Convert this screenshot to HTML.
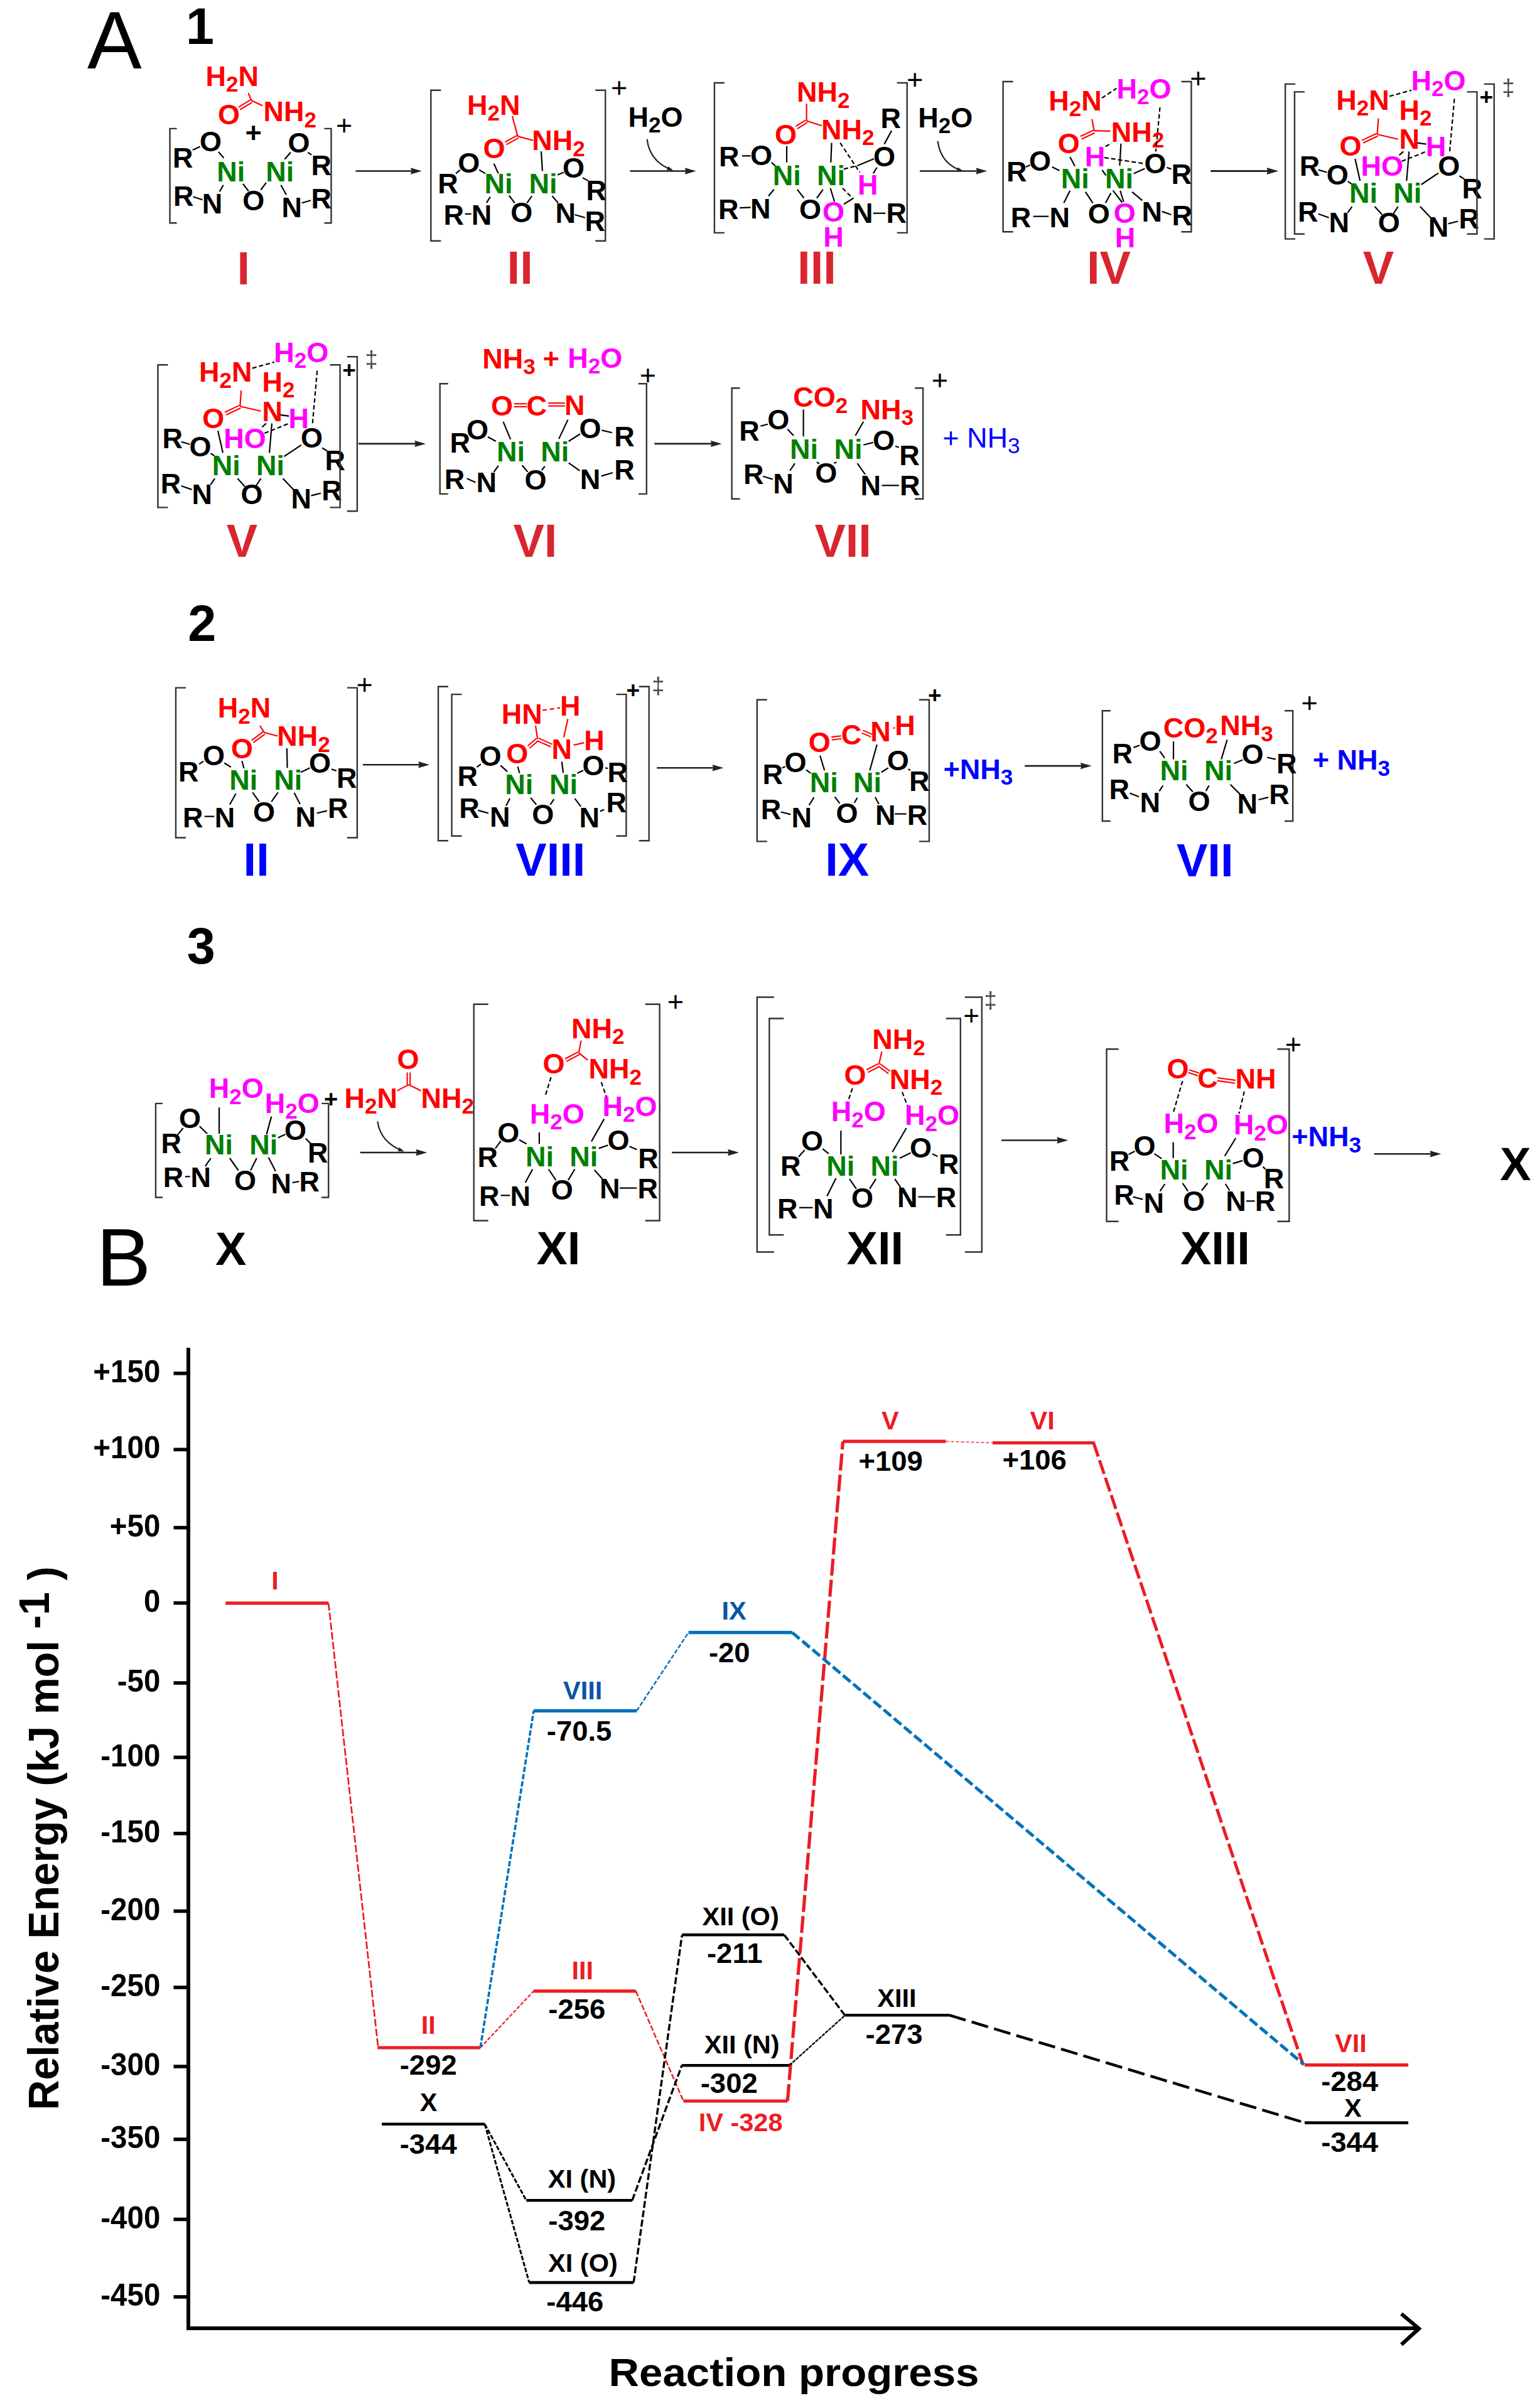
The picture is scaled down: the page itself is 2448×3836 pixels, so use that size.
<!DOCTYPE html>
<html><head><meta charset="utf-8"><title>Figure</title>
<style>html,body{margin:0;padding:0;background:#fff}svg{display:block}#fig{width:2448px;height:3836px;overflow:hidden}text{font-family:"Liberation Sans",sans-serif}</style>
</head><body>
<div id="fig">
<svg width="2448" height="3836" viewBox="0 0 2448 3836">
<rect width="2448" height="3836" fill="#fff"/>
<text x="139.0" y="109.3" fill="#000000" font-size="130.0" font-weight="normal" text-anchor="start">A</text>
<text x="296.1" y="70.3" fill="#000000" font-size="81.0" font-weight="bold" text-anchor="start">1</text>
<text x="327.6" y="136.6" fill="#ff0000" font-size="45.0" font-weight="bold" text-anchor="start"><tspan dy="0.0" font-size="45.0">H</tspan><tspan dy="9.4" font-size="35.1">2</tspan><tspan dy="-9.4" font-size="45.0">N</tspan></text>
<text x="347.1" y="198.3" fill="#ff0000" font-size="45.0" font-weight="bold" text-anchor="start">O</text>
<text x="419.4" y="193.2" fill="#ff0000" font-size="45.0" font-weight="bold" text-anchor="start"><tspan dy="0.0" font-size="45.0">NH</tspan><tspan dy="9.4" font-size="35.1">2</tspan></text>
<line x1="395.5" y1="148.3" x2="400.6" y2="160.1" stroke="#ff0000" stroke-width="2.2"/>
<line x1="400.6" y1="160.1" x2="418.2" y2="168.6" stroke="#ff0000" stroke-width="2.2"/>
<line x1="399.4" y1="158.9" x2="379.9" y2="170.6" stroke="#ff0000" stroke-width="2.1"/>
<line x1="401.8" y1="162.8" x2="382.3" y2="174.5" stroke="#ff0000" stroke-width="2.1"/>
<path d="M281.6 204.9H270.6V355.2H281.6" stroke="#333" stroke-width="2.4" fill="none"/>
<path d="M516.5 204.9H527.5V355.2H516.5" stroke="#333" stroke-width="2.4" fill="none"/>
<text x="548.1" y="214.9" fill="#000000" font-size="45.0" font-weight="normal" text-anchor="middle">+</text>
<text x="403.7" y="227.0" fill="#000000" font-size="45.0" font-weight="bold" text-anchor="middle">+</text>
<text x="317.9" y="241.2" fill="#000000" font-size="45.0" font-weight="bold" text-anchor="start">O</text>
<text x="274.9" y="267.4" fill="#000000" font-size="45.0" font-weight="bold" text-anchor="start">R</text>
<text x="345.2" y="288.9" fill="#008000" font-size="45.0" font-weight="bold" text-anchor="start">Ni</text>
<text x="423.3" y="288.9" fill="#008000" font-size="45.0" font-weight="bold" text-anchor="start">Ni</text>
<text x="458.4" y="242.8" fill="#000000" font-size="45.0" font-weight="bold" text-anchor="start">O</text>
<text x="495.5" y="279.1" fill="#000000" font-size="45.0" font-weight="bold" text-anchor="start">R</text>
<text x="276.1" y="327.9" fill="#000000" font-size="45.0" font-weight="bold" text-anchor="start">R</text>
<text x="321.8" y="339.6" fill="#000000" font-size="45.0" font-weight="bold" text-anchor="start">N</text>
<text x="386.2" y="334.9" fill="#000000" font-size="45.0" font-weight="bold" text-anchor="start">O</text>
<text x="448.6" y="345.5" fill="#000000" font-size="45.0" font-weight="bold" text-anchor="start">N</text>
<text x="495.5" y="331.8" fill="#000000" font-size="45.0" font-weight="bold" text-anchor="start">R</text>
<line x1="306.9" y1="238.9" x2="318.6" y2="233.4" stroke="#000000" stroke-width="2.2"/>
<line x1="347.9" y1="242.0" x2="356.5" y2="251.8" stroke="#000000" stroke-width="2.2"/>
<line x1="355.7" y1="294.7" x2="349.8" y2="305.3" stroke="#000000" stroke-width="2.2"/>
<line x1="307.7" y1="313.5" x2="322.5" y2="318.2" stroke="#000000" stroke-width="2.2"/>
<line x1="386.9" y1="292.8" x2="395.9" y2="304.5" stroke="#000000" stroke-width="2.2"/>
<line x1="415.4" y1="302.5" x2="424.0" y2="290.8" stroke="#000000" stroke-width="2.2"/>
<line x1="453.3" y1="253.7" x2="463.0" y2="242.8" stroke="#000000" stroke-width="2.2"/>
<line x1="490.4" y1="242.8" x2="496.2" y2="246.7" stroke="#000000" stroke-width="2.2"/>
<line x1="447.4" y1="294.7" x2="456.0" y2="310.3" stroke="#000000" stroke-width="2.2"/>
<line x1="480.6" y1="323.2" x2="495.1" y2="319.3" stroke="#000000" stroke-width="2.2"/>
<line x1="566.5" y1="272.5" x2="661.1" y2="272.5" stroke="#222" stroke-width="2.6"/>
<path d="M671.9 272.5L653.9 267.3L655.7 272.5L653.9 277.7Z" fill="#222"/>
<text x="377.4" y="452.8" fill="#d9262e" font-size="74.0" font-weight="bold" text-anchor="start">I</text>
<path d="M702.3 143.7H686.3V383.8H702.3" stroke="#333" stroke-width="2.4" fill="none"/>
<path d="M948.2 143.7H964.2V383.8H948.2" stroke="#333" stroke-width="2.4" fill="none"/>
<text x="986.1" y="154.9" fill="#000000" font-size="45.0" font-weight="normal" text-anchor="middle">+</text>
<text x="744.1" y="182.7" fill="#ff0000" font-size="45.0" font-weight="bold" text-anchor="start"><tspan dy="0.0" font-size="45.0">H</tspan><tspan dy="9.4" font-size="35.1">2</tspan><tspan dy="-9.4" font-size="45.0">N</tspan></text>
<text x="769.5" y="252.2" fill="#ff0000" font-size="45.0" font-weight="bold" text-anchor="start">O</text>
<text x="847.2" y="239.3" fill="#ff0000" font-size="45.0" font-weight="bold" text-anchor="start"><tspan dy="0.0" font-size="45.0">NH</tspan><tspan dy="9.4" font-size="35.1">2</tspan></text>
<line x1="815.9" y1="184.7" x2="824.5" y2="217.1" stroke="#ff0000" stroke-width="2.2"/>
<line x1="824.5" y1="217.1" x2="849.1" y2="223.7" stroke="#ff0000" stroke-width="2.2"/>
<line x1="823.4" y1="215.8" x2="804.3" y2="226.4" stroke="#ff0000" stroke-width="2.1"/>
<line x1="825.6" y1="219.9" x2="806.5" y2="230.4" stroke="#ff0000" stroke-width="2.1"/>
<text x="771.4" y="307.6" fill="#008000" font-size="45.0" font-weight="bold" text-anchor="start">Ni</text>
<text x="842.5" y="307.6" fill="#008000" font-size="45.0" font-weight="bold" text-anchor="start">Ni</text>
<text x="729.3" y="274.5" fill="#000000" font-size="45.0" font-weight="bold" text-anchor="start">O</text>
<text x="697.3" y="308.4" fill="#000000" font-size="45.0" font-weight="bold" text-anchor="start">R</text>
<text x="706.6" y="357.6" fill="#000000" font-size="45.0" font-weight="bold" text-anchor="start">R</text>
<text x="750.7" y="357.6" fill="#000000" font-size="45.0" font-weight="bold" text-anchor="start">N</text>
<text x="813.2" y="353.7" fill="#000000" font-size="45.0" font-weight="bold" text-anchor="start">O</text>
<text x="884.6" y="354.5" fill="#000000" font-size="45.0" font-weight="bold" text-anchor="start">N</text>
<text x="931.5" y="368.2" fill="#000000" font-size="45.0" font-weight="bold" text-anchor="start">R</text>
<text x="933.4" y="319.4" fill="#000000" font-size="45.0" font-weight="bold" text-anchor="start">R</text>
<text x="896.0" y="283.4" fill="#000000" font-size="45.0" font-weight="bold" text-anchor="start">O</text>
<line x1="763.2" y1="270.6" x2="773.0" y2="276.4" stroke="#000000" stroke-width="2.2"/>
<line x1="726.1" y1="276.4" x2="732.8" y2="270.6" stroke="#000000" stroke-width="2.2"/>
<line x1="786.6" y1="260.8" x2="793.7" y2="276.4" stroke="#000000" stroke-width="2.2"/>
<line x1="862.0" y1="241.3" x2="863.9" y2="272.5" stroke="#000000" stroke-width="2.2"/>
<line x1="888.1" y1="278.4" x2="897.9" y2="274.5" stroke="#000000" stroke-width="2.2"/>
<line x1="927.9" y1="283.1" x2="936.9" y2="288.1" stroke="#000000" stroke-width="2.2"/>
<line x1="780.8" y1="313.5" x2="774.9" y2="323.3" stroke="#000000" stroke-width="2.2"/>
<line x1="740.6" y1="340.8" x2="750.7" y2="340.8" stroke="#000000" stroke-width="2.2"/>
<line x1="810.8" y1="311.5" x2="819.8" y2="323.3" stroke="#000000" stroke-width="2.2"/>
<line x1="839.3" y1="323.3" x2="847.1" y2="312.3" stroke="#000000" stroke-width="2.2"/>
<line x1="879.5" y1="312.3" x2="888.9" y2="323.3" stroke="#000000" stroke-width="2.2"/>
<line x1="915.5" y1="342.0" x2="931.8" y2="346.7" stroke="#000000" stroke-width="2.2"/>
<text x="1000.6" y="201.5" fill="#000000" font-size="45.0" font-weight="bold" text-anchor="start"><tspan dy="0.0" font-size="45.0">H</tspan><tspan dy="9.4" font-size="35.1">2</tspan><tspan dy="-9.4" font-size="45.0">O</tspan></text>
<line x1="1003.3" y1="272.5" x2="1097.9" y2="272.5" stroke="#222" stroke-width="2.6"/>
<path d="M1108.7 272.5L1090.7 267.3L1092.5 272.5L1090.7 277.7Z" fill="#222"/>
<path d="M1030.6 221.8Q1034.5 256.9 1069.6 270.6" stroke="#222" stroke-width="2.2" fill="none"/>
<path d="M1072.4 271.6L1062.0 271.0L1064.3 265.0Z" fill="#222"/>
<text x="807.6" y="452.1" fill="#d9262e" font-size="74.0" font-weight="bold" text-anchor="start">II</text>
<path d="M1153.9 132.0H1137.9V370.9H1153.9" stroke="#333" stroke-width="2.4" fill="none"/>
<path d="M1428.7 132.0H1444.7V370.9H1428.7" stroke="#333" stroke-width="2.4" fill="none"/>
<text x="1457.2" y="142.4" fill="#000000" font-size="45.0" font-weight="normal" text-anchor="middle">+</text>
<text x="1269.1" y="162.4" fill="#ff0000" font-size="45.0" font-weight="bold" text-anchor="start"><tspan dy="0.0" font-size="45.0">NH</tspan><tspan dy="9.4" font-size="35.1">2</tspan></text>
<text x="1308.1" y="221.8" fill="#ff0000" font-size="45.0" font-weight="bold" text-anchor="start"><tspan dy="0.0" font-size="45.0">NH</tspan><tspan dy="9.4" font-size="35.1">2</tspan></text>
<text x="1233.9" y="229.6" fill="#ff0000" font-size="45.0" font-weight="bold" text-anchor="start">O</text>
<line x1="1284.6" y1="165.2" x2="1284.6" y2="192.5" stroke="#ff0000" stroke-width="2.2"/>
<line x1="1284.6" y1="192.5" x2="1308.8" y2="200.3" stroke="#ff0000" stroke-width="2.2"/>
<line x1="1283.4" y1="191.3" x2="1267.4" y2="201.1" stroke="#ff0000" stroke-width="2.1"/>
<line x1="1285.8" y1="195.2" x2="1269.8" y2="205.0" stroke="#ff0000" stroke-width="2.1"/>
<line x1="1253.0" y1="232.7" x2="1253.0" y2="258.8" stroke="#000000" stroke-width="2.2"/>
<text x="1144.9" y="264.7" fill="#000000" font-size="45.0" font-weight="bold" text-anchor="start">R</text>
<text x="1194.9" y="262.8" fill="#000000" font-size="45.0" font-weight="bold" text-anchor="start">O</text>
<line x1="1182.0" y1="248.3" x2="1195.6" y2="248.3" stroke="#000000" stroke-width="2.2"/>
<text x="1230.8" y="295.2" fill="#008000" font-size="45.0" font-weight="bold" text-anchor="start">Ni</text>
<text x="1301.1" y="295.2" fill="#008000" font-size="45.0" font-weight="bold" text-anchor="start">Ni</text>
<line x1="1228.8" y1="258.8" x2="1234.7" y2="263.9" stroke="#000000" stroke-width="2.2"/>
<text x="1144.1" y="348.6" fill="#000000" font-size="45.0" font-weight="bold" text-anchor="start">R</text>
<text x="1194.9" y="347.5" fill="#000000" font-size="45.0" font-weight="bold" text-anchor="start">N</text>
<line x1="1178.1" y1="331.1" x2="1195.6" y2="330.3" stroke="#000000" stroke-width="2.2"/>
<line x1="1232.7" y1="301.8" x2="1224.1" y2="312.3" stroke="#000000" stroke-width="2.2"/>
<text x="1273.0" y="348.6" fill="#000000" font-size="45.0" font-weight="bold" text-anchor="start">O</text>
<line x1="1269.8" y1="301.8" x2="1280.4" y2="315.5" stroke="#000000" stroke-width="2.2"/>
<line x1="1301.0" y1="315.5" x2="1310.8" y2="301.8" stroke="#000000" stroke-width="2.2"/>
<text x="1310.1" y="352.5" fill="#ff00ff" font-size="45.0" font-weight="bold" text-anchor="start">O</text>
<text x="1311.2" y="392.7" fill="#ff00ff" font-size="45.0" font-weight="bold" text-anchor="start">H</text>
<text x="1365.9" y="309.6" fill="#ff00ff" font-size="45.0" font-weight="bold" text-anchor="start">H</text>
<line x1="1322.5" y1="299.8" x2="1329.1" y2="321.3" stroke="#000000" stroke-width="2.2"/>
<line x1="1324.5" y1="227.6" x2="1323.3" y2="258.8" stroke="#000000" stroke-width="2.2"/>
<line x1="1338.1" y1="227.6" x2="1369.4" y2="274.5" stroke="#000000" stroke-width="2.2" stroke-dasharray="7 4"/>
<line x1="1344.0" y1="269.4" x2="1365.5" y2="263.9" stroke="#000000" stroke-width="2.2" stroke-dasharray="7 4"/>
<line x1="1365.5" y1="263.9" x2="1392.0" y2="253.0" stroke="#000000" stroke-width="2.2"/>
<text x="1390.9" y="264.7" fill="#000000" font-size="45.0" font-weight="bold" text-anchor="start">O</text>
<text x="1402.6" y="204.2" fill="#000000" font-size="45.0" font-weight="bold" text-anchor="start">R</text>
<line x1="1420.1" y1="208.1" x2="1408.4" y2="229.6" stroke="#000000" stroke-width="2.2"/>
<line x1="1396.7" y1="266.7" x2="1390.8" y2="276.4" stroke="#000000" stroke-width="2.2"/>
<line x1="1342.0" y1="299.8" x2="1357.6" y2="315.5" stroke="#000000" stroke-width="2.2" stroke-dasharray="7 4"/>
<line x1="1344.0" y1="325.2" x2="1359.6" y2="315.5" stroke="#000000" stroke-width="2.2"/>
<text x="1358.1" y="355.3" fill="#000000" font-size="45.0" font-weight="bold" text-anchor="start">N</text>
<text x="1411.5" y="355.3" fill="#000000" font-size="45.0" font-weight="bold" text-anchor="start">R</text>
<line x1="1390.8" y1="339.7" x2="1410.3" y2="339.7" stroke="#000000" stroke-width="2.2"/>
<text x="1462.3" y="203.0" fill="#000000" font-size="45.0" font-weight="bold" text-anchor="start"><tspan dy="0.0" font-size="45.0">H</tspan><tspan dy="9.4" font-size="35.1">2</tspan><tspan dy="-9.4" font-size="45.0">O</tspan></text>
<line x1="1465.0" y1="272.5" x2="1561.5" y2="272.5" stroke="#222" stroke-width="2.6"/>
<path d="M1572.3 272.5L1554.3 267.3L1556.1 272.5L1554.3 277.7Z" fill="#222"/>
<path d="M1493.5 224.9Q1498.2 260.8 1531.4 271.7" stroke="#222" stroke-width="2.2" fill="none"/>
<path d="M1534.2 272.7L1523.7 272.6L1525.7 266.5Z" fill="#222"/>
<text x="1270.1" y="452.1" fill="#d9262e" font-size="74.0" font-weight="bold" text-anchor="start">III</text>
<path d="M1613.6 130.0H1597.6V369.3H1613.6" stroke="#333" stroke-width="2.4" fill="none"/>
<path d="M1881.4 130.0H1897.4V369.3H1881.4" stroke="#333" stroke-width="2.4" fill="none"/>
<text x="1908.4" y="140.0" fill="#000000" font-size="45.0" font-weight="normal" text-anchor="middle">+</text>
<text x="1670.3" y="175.7" fill="#ff0000" font-size="45.0" font-weight="bold" text-anchor="start"><tspan dy="0.0" font-size="45.0">H</tspan><tspan dy="9.4" font-size="35.1">2</tspan><tspan dy="-9.4" font-size="45.0">N</tspan></text>
<text x="1778.4" y="156.6" fill="#ff00ff" font-size="45.0" font-weight="bold" text-anchor="start"><tspan dy="0.0" font-size="45.0">H</tspan><tspan dy="9.4" font-size="35.1">2</tspan><tspan dy="-9.4" font-size="45.0">O</tspan></text>
<line x1="1754.9" y1="156.2" x2="1778.4" y2="140.6" stroke="#000000" stroke-width="2.2" stroke-dasharray="7 4"/>
<text x="1769.8" y="225.7" fill="#ff0000" font-size="45.0" font-weight="bold" text-anchor="start"><tspan dy="0.0" font-size="45.0">NH</tspan><tspan dy="9.4" font-size="35.1">2</tspan></text>
<text x="1684.7" y="244.4" fill="#ff0000" font-size="45.0" font-weight="bold" text-anchor="start">O</text>
<line x1="1739.3" y1="189.8" x2="1742.5" y2="208.1" stroke="#ff0000" stroke-width="2.2"/>
<line x1="1742.5" y1="208.1" x2="1768.6" y2="208.9" stroke="#ff0000" stroke-width="2.2"/>
<line x1="1741.5" y1="207.6" x2="1720.8" y2="217.3" stroke="#ff0000" stroke-width="2.1"/>
<line x1="1743.4" y1="211.7" x2="1722.7" y2="221.5" stroke="#ff0000" stroke-width="2.1"/>
<line x1="1847.5" y1="171.0" x2="1840.8" y2="241.3" stroke="#000000" stroke-width="2.2" stroke-dasharray="7 4"/>
<text x="1727.7" y="264.7" fill="#ff00ff" font-size="45.0" font-weight="bold" text-anchor="start">H</text>
<line x1="1760.8" y1="233.5" x2="1770.6" y2="227.6" stroke="#000000" stroke-width="2.2" stroke-dasharray="7 4"/>
<line x1="1785.4" y1="228.8" x2="1783.4" y2="263.9" stroke="#000000" stroke-width="2.2"/>
<line x1="1758.8" y1="251.0" x2="1823.3" y2="260.8" stroke="#000000" stroke-width="2.2" stroke-dasharray="7 4"/>
<text x="1822.5" y="276.4" fill="#000000" font-size="45.0" font-weight="bold" text-anchor="start">O</text>
<text x="1865.5" y="292.8" fill="#000000" font-size="45.0" font-weight="bold" text-anchor="start">R</text>
<line x1="1858.4" y1="266.7" x2="1865.4" y2="269.4" stroke="#000000" stroke-width="2.2"/>
<line x1="1805.7" y1="276.4" x2="1823.3" y2="268.6" stroke="#000000" stroke-width="2.2"/>
<text x="1689.8" y="299.8" fill="#008000" font-size="45.0" font-weight="bold" text-anchor="start">Ni</text>
<text x="1760.1" y="299.8" fill="#008000" font-size="45.0" font-weight="bold" text-anchor="start">Ni</text>
<text x="1639.0" y="271.7" fill="#000000" font-size="45.0" font-weight="bold" text-anchor="start">O</text>
<text x="1603.1" y="288.9" fill="#000000" font-size="45.0" font-weight="bold" text-anchor="start">R</text>
<line x1="1633.9" y1="265.9" x2="1640.6" y2="262.8" stroke="#000000" stroke-width="2.2"/>
<line x1="1675.7" y1="265.9" x2="1687.4" y2="271.7" stroke="#000000" stroke-width="2.2"/>
<line x1="1704.2" y1="249.9" x2="1712.0" y2="264.7" stroke="#000000" stroke-width="2.2"/>
<text x="1609.8" y="361.5" fill="#000000" font-size="45.0" font-weight="bold" text-anchor="start">R</text>
<text x="1671.4" y="361.5" fill="#000000" font-size="45.0" font-weight="bold" text-anchor="start">N</text>
<line x1="1645.6" y1="344.7" x2="1670.2" y2="344.7" stroke="#000000" stroke-width="2.2"/>
<line x1="1704.2" y1="303.7" x2="1694.4" y2="323.3" stroke="#000000" stroke-width="2.2"/>
<text x="1732.7" y="356.4" fill="#000000" font-size="45.0" font-weight="bold" text-anchor="start">O</text>
<text x="1773.7" y="354.5" fill="#ff00ff" font-size="45.0" font-weight="bold" text-anchor="start">O</text>
<text x="1775.7" y="394.3" fill="#ff00ff" font-size="45.0" font-weight="bold" text-anchor="start">H</text>
<line x1="1728.8" y1="305.7" x2="1740.5" y2="323.3" stroke="#000000" stroke-width="2.2"/>
<line x1="1760.8" y1="323.3" x2="1769.4" y2="307.6" stroke="#000000" stroke-width="2.2"/>
<line x1="1784.2" y1="303.7" x2="1789.7" y2="321.7" stroke="#000000" stroke-width="2.2"/>
<line x1="1755.3" y1="270.9" x2="1761.6" y2="279.5" stroke="#000000" stroke-width="2.2"/>
<line x1="1772.5" y1="303.4" x2="1787.3" y2="322.5" stroke="#000000" stroke-width="2.2"/>
<line x1="1803.0" y1="305.7" x2="1819.4" y2="319.4" stroke="#000000" stroke-width="2.2"/>
<text x="1818.6" y="352.5" fill="#000000" font-size="45.0" font-weight="bold" text-anchor="start">N</text>
<text x="1866.6" y="359.2" fill="#000000" font-size="45.0" font-weight="bold" text-anchor="start">R</text>
<line x1="1850.6" y1="336.9" x2="1865.4" y2="342.0" stroke="#000000" stroke-width="2.2"/>
<line x1="1928.7" y1="272.5" x2="2025.2" y2="272.5" stroke="#222" stroke-width="2.6"/>
<path d="M2036.0 272.5L2018.0 267.3L2019.8 272.5L2018.0 277.7Z" fill="#222"/>
<text x="1731.0" y="452.1" fill="#d9262e" font-size="74.0" font-weight="bold" text-anchor="start">IV</text>
<text x="2247.4" y="143.7" fill="#ff00ff" font-size="45.0" font-weight="bold" text-anchor="start"><tspan dy="0.0" font-size="45.0">H</tspan><tspan dy="9.4" font-size="35.1">2</tspan><tspan dy="-9.4" font-size="45.0">O</tspan></text>
<text x="2128.3" y="174.9" fill="#ff0000" font-size="45.0" font-weight="bold" text-anchor="start"><tspan dy="0.0" font-size="45.0">H</tspan><tspan dy="9.4" font-size="35.1">2</tspan><tspan dy="-9.4" font-size="45.0">N</tspan></text>
<line x1="2213.0" y1="153.4" x2="2248.1" y2="143.7" stroke="#000000" stroke-width="2.2" stroke-dasharray="7 4"/>
<text x="2228.6" y="190.5" fill="#ff0000" font-size="45.0" font-weight="bold" text-anchor="start"><tspan dy="0.0" font-size="45.0">H</tspan><tspan dy="9.4" font-size="35.1">2</tspan></text>
<text x="2228.6" y="237.4" fill="#ff0000" font-size="45.0" font-weight="bold" text-anchor="start">N</text>
<text x="2270.8" y="249.1" fill="#ff00ff" font-size="45.0" font-weight="bold" text-anchor="start">H</text>
<text x="2133.4" y="248.3" fill="#ff0000" font-size="45.0" font-weight="bold" text-anchor="start">O</text>
<line x1="2195.4" y1="188.6" x2="2193.5" y2="214.0" stroke="#ff0000" stroke-width="2.2"/>
<line x1="2193.5" y1="214.0" x2="2226.7" y2="221.8" stroke="#ff0000" stroke-width="2.2"/>
<line x1="2192.5" y1="212.7" x2="2169.1" y2="223.6" stroke="#ff0000" stroke-width="2.1"/>
<line x1="2194.5" y1="216.8" x2="2171.0" y2="227.8" stroke="#ff0000" stroke-width="2.1"/>
<line x1="2257.9" y1="227.6" x2="2271.6" y2="229.6" stroke="#000000" stroke-width="2.2"/>
<line x1="2316.4" y1="157.4" x2="2308.6" y2="245.2" stroke="#000000" stroke-width="2.2" stroke-dasharray="7 4"/>
<text x="2167.4" y="280.3" fill="#ff00ff" font-size="45.0" font-weight="bold" text-anchor="start">HO</text>
<text x="2290.3" y="279.5" fill="#000000" font-size="45.0" font-weight="bold" text-anchor="start">O</text>
<text x="2328.6" y="316.2" fill="#000000" font-size="45.0" font-weight="bold" text-anchor="start">R</text>
<line x1="2324.3" y1="280.3" x2="2332.1" y2="285.0" stroke="#000000" stroke-width="2.2"/>
<text x="2149.0" y="323.3" fill="#008000" font-size="45.0" font-weight="bold" text-anchor="start">Ni</text>
<text x="2219.3" y="323.3" fill="#008000" font-size="45.0" font-weight="bold" text-anchor="start">Ni</text>
<line x1="2263.7" y1="294.0" x2="2291.1" y2="275.6" stroke="#000000" stroke-width="2.2"/>
<line x1="2244.2" y1="241.3" x2="2240.3" y2="288.1" stroke="#000000" stroke-width="2.2"/>
<line x1="2232.5" y1="256.9" x2="2271.6" y2="241.3" stroke="#000000" stroke-width="2.2" stroke-dasharray="7 4"/>
<line x1="2228.6" y1="247.1" x2="2235.2" y2="241.3" stroke="#000000" stroke-width="2.2"/>
<line x1="2158.3" y1="253.0" x2="2166.2" y2="288.1" stroke="#000000" stroke-width="2.2"/>
<text x="2069.8" y="280.3" fill="#000000" font-size="45.0" font-weight="bold" text-anchor="start">R</text>
<text x="2112.7" y="294.0" fill="#000000" font-size="45.0" font-weight="bold" text-anchor="start">O</text>
<line x1="2099.8" y1="270.6" x2="2113.5" y2="274.5" stroke="#000000" stroke-width="2.2"/>
<line x1="2146.6" y1="288.9" x2="2152.5" y2="292.8" stroke="#000000" stroke-width="2.2"/>
<text x="2067.0" y="352.5" fill="#000000" font-size="45.0" font-weight="bold" text-anchor="start">R</text>
<text x="2116.6" y="370.1" fill="#000000" font-size="45.0" font-weight="bold" text-anchor="start">N</text>
<line x1="2099.8" y1="340.8" x2="2116.6" y2="346.7" stroke="#000000" stroke-width="2.2"/>
<line x1="2153.3" y1="329.1" x2="2146.6" y2="338.9" stroke="#000000" stroke-width="2.2"/>
<text x="2194.7" y="370.1" fill="#000000" font-size="45.0" font-weight="bold" text-anchor="start">O</text>
<line x1="2189.6" y1="329.1" x2="2201.3" y2="342.0" stroke="#000000" stroke-width="2.2"/>
<line x1="2218.9" y1="340.8" x2="2226.7" y2="329.1" stroke="#000000" stroke-width="2.2"/>
<text x="2274.7" y="377.1" fill="#000000" font-size="45.0" font-weight="bold" text-anchor="start">N</text>
<line x1="2261.8" y1="329.1" x2="2279.4" y2="347.5" stroke="#000000" stroke-width="2.2"/>
<text x="2323.5" y="364.2" fill="#000000" font-size="45.0" font-weight="bold" text-anchor="start">R</text>
<line x1="2306.7" y1="356.4" x2="2322.3" y2="352.5" stroke="#000000" stroke-width="2.2"/>
<path d="M2063.1 133.9H2047.1V380.6H2063.1" stroke="#333" stroke-width="2.4" fill="none"/>
<path d="M2363.7 133.9H2379.7V380.6H2363.7" stroke="#333" stroke-width="2.4" fill="none"/>
<path d="M2077.9 146.4H2061.9V372.8H2077.9" stroke="#333" stroke-width="2.4" fill="none"/>
<path d="M2336.4 146.4H2352.4V372.8H2336.4" stroke="#333" stroke-width="2.4" fill="none"/>
<text x="2367.2" y="167.0" fill="#000000" font-size="37.0" font-weight="bold" text-anchor="middle">+</text>
<text x="2402.3" y="151.6" fill="#444" font-size="36.0" font-weight="normal" text-anchor="middle">‡</text>
<line x1="1928.0" y1="272.5" x2="2024.6" y2="272.5" stroke="#222" stroke-width="2.6"/>
<path d="M2035.4 272.5L2017.4 267.3L2019.2 272.5L2017.4 277.7Z" fill="#222"/>
<text x="2170.7" y="452.1" fill="#d9262e" font-size="74.0" font-weight="bold" text-anchor="start">V</text>
<text x="436.2" y="576.9" fill="#ff00ff" font-size="45.0" font-weight="bold" text-anchor="start"><tspan dy="0.0" font-size="45.0">H</tspan><tspan dy="9.4" font-size="35.1">2</tspan><tspan dy="-9.4" font-size="45.0">O</tspan></text>
<text x="317.1" y="608.1" fill="#ff0000" font-size="45.0" font-weight="bold" text-anchor="start"><tspan dy="0.0" font-size="45.0">H</tspan><tspan dy="9.4" font-size="35.1">2</tspan><tspan dy="-9.4" font-size="45.0">N</tspan></text>
<line x1="401.8" y1="586.6" x2="436.9" y2="576.9" stroke="#000000" stroke-width="2.2" stroke-dasharray="7 4"/>
<text x="417.4" y="623.7" fill="#ff0000" font-size="45.0" font-weight="bold" text-anchor="start"><tspan dy="0.0" font-size="45.0">H</tspan><tspan dy="9.4" font-size="35.1">2</tspan></text>
<text x="417.4" y="670.6" fill="#ff0000" font-size="45.0" font-weight="bold" text-anchor="start">N</text>
<text x="459.6" y="682.3" fill="#ff00ff" font-size="45.0" font-weight="bold" text-anchor="start">H</text>
<text x="322.2" y="681.5" fill="#ff0000" font-size="45.0" font-weight="bold" text-anchor="start">O</text>
<line x1="384.2" y1="621.8" x2="382.3" y2="647.2" stroke="#ff0000" stroke-width="2.2"/>
<line x1="382.3" y1="647.2" x2="415.5" y2="655.0" stroke="#ff0000" stroke-width="2.2"/>
<line x1="381.3" y1="645.9" x2="357.9" y2="656.8" stroke="#ff0000" stroke-width="2.1"/>
<line x1="383.3" y1="650.0" x2="359.8" y2="661.0" stroke="#ff0000" stroke-width="2.1"/>
<line x1="446.7" y1="660.8" x2="460.4" y2="662.8" stroke="#000000" stroke-width="2.2"/>
<line x1="505.2" y1="590.6" x2="497.4" y2="678.4" stroke="#000000" stroke-width="2.2" stroke-dasharray="7 4"/>
<text x="356.2" y="713.5" fill="#ff00ff" font-size="45.0" font-weight="bold" text-anchor="start">HO</text>
<text x="479.1" y="712.7" fill="#000000" font-size="45.0" font-weight="bold" text-anchor="start">O</text>
<text x="517.4" y="749.4" fill="#000000" font-size="45.0" font-weight="bold" text-anchor="start">R</text>
<line x1="513.1" y1="713.5" x2="520.9" y2="718.2" stroke="#000000" stroke-width="2.2"/>
<text x="337.8" y="756.5" fill="#008000" font-size="45.0" font-weight="bold" text-anchor="start">Ni</text>
<text x="408.1" y="756.5" fill="#008000" font-size="45.0" font-weight="bold" text-anchor="start">Ni</text>
<line x1="452.5" y1="727.2" x2="479.9" y2="708.8" stroke="#000000" stroke-width="2.2"/>
<line x1="433.0" y1="674.5" x2="429.1" y2="721.3" stroke="#000000" stroke-width="2.2"/>
<line x1="421.3" y1="690.1" x2="460.4" y2="674.5" stroke="#000000" stroke-width="2.2" stroke-dasharray="7 4"/>
<line x1="417.4" y1="680.3" x2="424.0" y2="674.5" stroke="#000000" stroke-width="2.2"/>
<line x1="347.1" y1="686.2" x2="355.0" y2="721.3" stroke="#000000" stroke-width="2.2"/>
<text x="258.6" y="713.5" fill="#000000" font-size="45.0" font-weight="bold" text-anchor="start">R</text>
<text x="301.5" y="727.2" fill="#000000" font-size="45.0" font-weight="bold" text-anchor="start">O</text>
<line x1="288.6" y1="703.8" x2="302.3" y2="707.7" stroke="#000000" stroke-width="2.2"/>
<line x1="335.4" y1="722.1" x2="341.3" y2="726.0" stroke="#000000" stroke-width="2.2"/>
<text x="255.8" y="785.7" fill="#000000" font-size="45.0" font-weight="bold" text-anchor="start">R</text>
<text x="305.4" y="803.3" fill="#000000" font-size="45.0" font-weight="bold" text-anchor="start">N</text>
<line x1="288.6" y1="774.0" x2="305.4" y2="779.9" stroke="#000000" stroke-width="2.2"/>
<line x1="342.1" y1="762.3" x2="335.4" y2="772.1" stroke="#000000" stroke-width="2.2"/>
<text x="383.5" y="803.3" fill="#000000" font-size="45.0" font-weight="bold" text-anchor="start">O</text>
<line x1="378.4" y1="762.3" x2="390.1" y2="775.2" stroke="#000000" stroke-width="2.2"/>
<line x1="407.7" y1="774.0" x2="415.5" y2="762.3" stroke="#000000" stroke-width="2.2"/>
<text x="463.5" y="810.3" fill="#000000" font-size="45.0" font-weight="bold" text-anchor="start">N</text>
<line x1="450.6" y1="762.3" x2="468.2" y2="780.7" stroke="#000000" stroke-width="2.2"/>
<text x="512.3" y="797.4" fill="#000000" font-size="45.0" font-weight="bold" text-anchor="start">R</text>
<line x1="495.5" y1="789.6" x2="511.1" y2="785.7" stroke="#000000" stroke-width="2.2"/>
<path d="M267.5 581.2H251.5V808.4H267.5" stroke="#333" stroke-width="2.4" fill="none"/>
<path d="M525.6 581.2H541.6V808.4H525.6" stroke="#333" stroke-width="2.4" fill="none"/>
<path d="M552.9 568.3H568.9V814.2H552.9" stroke="#333" stroke-width="2.4" fill="none"/>
<text x="556.0" y="602.2" fill="#000000" font-size="37.0" font-weight="bold" text-anchor="middle">+</text>
<text x="591.5" y="584.8" fill="#444" font-size="36.0" font-weight="normal" text-anchor="middle">‡</text>
<line x1="570.9" y1="706.9" x2="667.4" y2="706.9" stroke="#222" stroke-width="2.6"/>
<path d="M678.2 706.9L660.2 701.7L662.0 706.9L660.2 712.1Z" fill="#222"/>
<text x="360.7" y="886.5" fill="#d9262e" font-size="74.0" font-weight="bold" text-anchor="start">V</text>
<text x="768.3" y="586.7" fill="#ff0000" font-size="45.0" font-weight="bold" text-anchor="start"><tspan dy="0.0" font-size="45.0">NH</tspan><tspan dy="9.4" font-size="35.1">3</tspan></text>
<text x="877.6" y="586.5" fill="#ff0000" font-size="45.0" font-weight="bold" text-anchor="middle">+</text>
<text x="904.2" y="585.9" fill="#ff00ff" font-size="45.0" font-weight="bold" text-anchor="start"><tspan dy="0.0" font-size="45.0">H</tspan><tspan dy="9.4" font-size="35.1">2</tspan><tspan dy="-9.4" font-size="45.0">O</tspan></text>
<path d="M713.7 611.3H700.7V786.9H713.7" stroke="#333" stroke-width="2.4" fill="none"/>
<path d="M1016.8 611.3H1029.8V786.9H1016.8" stroke="#333" stroke-width="2.4" fill="none"/>
<text x="1031.8" y="612.7" fill="#000000" font-size="45.0" font-weight="normal" text-anchor="middle">+</text>
<text x="782.0" y="662.0" fill="#ff0000" font-size="45.0" font-weight="bold" text-anchor="start">O</text>
<text x="838.6" y="662.0" fill="#ff0000" font-size="45.0" font-weight="bold" text-anchor="start">C</text>
<text x="899.1" y="660.8" fill="#ff0000" font-size="45.0" font-weight="bold" text-anchor="start">N</text>
<line x1="818.6" y1="647.9" x2="839.3" y2="647.9" stroke="#ff0000" stroke-width="2.1"/>
<line x1="818.6" y1="643.3" x2="839.3" y2="643.3" stroke="#ff0000" stroke-width="2.1"/>
<line x1="873.3" y1="646.7" x2="899.8" y2="646.7" stroke="#ff0000" stroke-width="2.1"/>
<line x1="873.3" y1="642.1" x2="899.8" y2="642.1" stroke="#ff0000" stroke-width="2.1"/>
<line x1="801.5" y1="671.8" x2="813.2" y2="699.9" stroke="#000000" stroke-width="2.2"/>
<line x1="904.5" y1="668.6" x2="890.1" y2="699.1" stroke="#000000" stroke-width="2.2"/>
<text x="791.0" y="735.0" fill="#008000" font-size="45.0" font-weight="bold" text-anchor="start">Ni</text>
<text x="861.2" y="735.0" fill="#008000" font-size="45.0" font-weight="bold" text-anchor="start">Ni</text>
<text x="716.4" y="720.6" fill="#000000" font-size="45.0" font-weight="bold" text-anchor="start">R</text>
<text x="742.9" y="699.9" fill="#000000" font-size="45.0" font-weight="bold" text-anchor="start">O</text>
<line x1="776.9" y1="696.0" x2="789.8" y2="703.0" stroke="#000000" stroke-width="2.2"/>
<text x="707.8" y="779.1" fill="#000000" font-size="45.0" font-weight="bold" text-anchor="start">R</text>
<text x="758.6" y="784.2" fill="#000000" font-size="45.0" font-weight="bold" text-anchor="start">N</text>
<line x1="743.7" y1="762.3" x2="757.4" y2="768.6" stroke="#000000" stroke-width="2.2"/>
<line x1="793.7" y1="742.0" x2="786.6" y2="751.8" stroke="#000000" stroke-width="2.2"/>
<text x="835.5" y="780.3" fill="#000000" font-size="45.0" font-weight="bold" text-anchor="start">O</text>
<line x1="831.5" y1="741.2" x2="840.5" y2="751.8" stroke="#000000" stroke-width="2.2"/>
<line x1="862.8" y1="749.1" x2="867.8" y2="742.8" stroke="#000000" stroke-width="2.2"/>
<text x="922.5" y="698.3" fill="#000000" font-size="45.0" font-weight="bold" text-anchor="start">O</text>
<line x1="905.7" y1="703.0" x2="924.0" y2="691.3" stroke="#000000" stroke-width="2.2"/>
<text x="978.3" y="710.8" fill="#000000" font-size="45.0" font-weight="bold" text-anchor="start">R</text>
<line x1="958.4" y1="685.4" x2="974.8" y2="689.3" stroke="#000000" stroke-width="2.2"/>
<text x="923.7" y="779.1" fill="#000000" font-size="45.0" font-weight="bold" text-anchor="start">N</text>
<line x1="905.7" y1="737.3" x2="923.3" y2="749.8" stroke="#000000" stroke-width="2.2"/>
<text x="978.3" y="763.5" fill="#000000" font-size="45.0" font-weight="bold" text-anchor="start">R</text>
<line x1="957.6" y1="758.4" x2="976.0" y2="753.0" stroke="#000000" stroke-width="2.2"/>
<line x1="1042.3" y1="706.9" x2="1138.9" y2="706.9" stroke="#222" stroke-width="2.6"/>
<path d="M1149.7 706.9L1131.7 701.7L1133.5 706.9L1131.7 712.1Z" fill="#222"/>
<text x="817.4" y="886.5" fill="#d9262e" font-size="74.0" font-weight="bold" text-anchor="start">VI</text>
<path d="M1178.6 618.3H1165.6V794.7H1178.6" stroke="#333" stroke-width="2.4" fill="none"/>
<path d="M1457.1 618.3H1470.1V794.7H1457.1" stroke="#333" stroke-width="2.4" fill="none"/>
<text x="1497.0" y="621.3" fill="#000000" font-size="45.0" font-weight="normal" text-anchor="middle">+</text>
<text x="1263.2" y="648.3" fill="#ff0000" font-size="45.0" font-weight="bold" text-anchor="start"><tspan dy="0.0" font-size="45.0">CO</tspan><tspan dy="9.4" font-size="35.1">2</tspan></text>
<text x="1370.6" y="667.9" fill="#ff0000" font-size="45.0" font-weight="bold" text-anchor="start"><tspan dy="0.0" font-size="45.0">NH</tspan><tspan dy="9.4" font-size="35.1">3</tspan></text>
<text x="1501.3" y="712.8" fill="#0000ff" font-size="45.0" font-weight="normal" text-anchor="start"><tspan dy="0.0" font-size="45.0">+ NH</tspan><tspan dy="9.4" font-size="35.1">3</tspan></text>
<line x1="1279.6" y1="652.2" x2="1279.6" y2="695.2" stroke="#000000" stroke-width="2.2"/>
<line x1="1375.2" y1="671.8" x2="1362.3" y2="694.0" stroke="#000000" stroke-width="2.2"/>
<text x="1258.1" y="731.1" fill="#008000" font-size="45.0" font-weight="bold" text-anchor="start">Ni</text>
<text x="1328.4" y="731.1" fill="#008000" font-size="45.0" font-weight="bold" text-anchor="start">Ni</text>
<text x="1177.3" y="702.2" fill="#000000" font-size="45.0" font-weight="bold" text-anchor="start">R</text>
<text x="1222.2" y="683.5" fill="#000000" font-size="45.0" font-weight="bold" text-anchor="start">O</text>
<line x1="1211.3" y1="678.8" x2="1223.0" y2="675.7" stroke="#000000" stroke-width="2.2"/>
<line x1="1254.2" y1="683.5" x2="1264.0" y2="694.0" stroke="#000000" stroke-width="2.2"/>
<text x="1184.0" y="770.5" fill="#000000" font-size="45.0" font-weight="bold" text-anchor="start">R</text>
<text x="1231.2" y="786.1" fill="#000000" font-size="45.0" font-weight="bold" text-anchor="start">N</text>
<line x1="1215.2" y1="758.8" x2="1230.8" y2="763.5" stroke="#000000" stroke-width="2.2"/>
<line x1="1265.9" y1="738.1" x2="1258.1" y2="749.8" stroke="#000000" stroke-width="2.2"/>
<text x="1298.3" y="769.4" fill="#000000" font-size="45.0" font-weight="bold" text-anchor="start">O</text>
<line x1="1301.0" y1="736.2" x2="1304.9" y2="738.9" stroke="#000000" stroke-width="2.2"/>
<line x1="1328.4" y1="738.1" x2="1332.3" y2="736.2" stroke="#000000" stroke-width="2.2"/>
<text x="1390.1" y="716.7" fill="#000000" font-size="45.0" font-weight="bold" text-anchor="start">O</text>
<line x1="1375.2" y1="708.8" x2="1390.8" y2="704.9" stroke="#000000" stroke-width="2.2"/>
<text x="1432.2" y="741.2" fill="#000000" font-size="45.0" font-weight="bold" text-anchor="start">R</text>
<line x1="1426.0" y1="710.8" x2="1431.8" y2="712.8" stroke="#000000" stroke-width="2.2"/>
<text x="1370.6" y="788.9" fill="#000000" font-size="45.0" font-weight="bold" text-anchor="start">N</text>
<line x1="1365.5" y1="738.1" x2="1377.9" y2="755.7" stroke="#000000" stroke-width="2.2"/>
<text x="1433.0" y="788.9" fill="#000000" font-size="45.0" font-weight="bold" text-anchor="start">R</text>
<line x1="1404.5" y1="773.3" x2="1431.8" y2="773.3" stroke="#000000" stroke-width="2.2"/>
<text x="1297.4" y="886.5" fill="#d9262e" font-size="74.0" font-weight="bold" text-anchor="start">VII</text>
<text x="299.3" y="1021.0" fill="#000000" font-size="81.0" font-weight="bold" text-anchor="start">2</text>
<path d="M296.0 1095.6H280.0V1334.5H296.0" stroke="#333" stroke-width="2.4" fill="none"/>
<path d="M552.9 1095.6H568.9V1334.5H552.9" stroke="#333" stroke-width="2.4" fill="none"/>
<text x="580.6" y="1105.6" fill="#000000" font-size="45.0" font-weight="normal" text-anchor="middle">+</text>
<text x="346.8" y="1143.2" fill="#ff0000" font-size="45.0" font-weight="bold" text-anchor="start"><tspan dy="0.0" font-size="45.0">H</tspan><tspan dy="9.4" font-size="35.1">2</tspan><tspan dy="-9.4" font-size="45.0">N</tspan></text>
<text x="441.3" y="1188.1" fill="#ff0000" font-size="45.0" font-weight="bold" text-anchor="start"><tspan dy="0.0" font-size="45.0">NH</tspan><tspan dy="9.4" font-size="35.1">2</tspan></text>
<text x="367.9" y="1207.6" fill="#ff0000" font-size="45.0" font-weight="bold" text-anchor="start">O</text>
<line x1="413.9" y1="1156.1" x2="420.6" y2="1166.7" stroke="#ff0000" stroke-width="2.2"/>
<line x1="420.6" y1="1166.7" x2="442.0" y2="1172.5" stroke="#ff0000" stroke-width="2.2"/>
<line x1="419.2" y1="1165.6" x2="400.8" y2="1179.3" stroke="#ff0000" stroke-width="2.1"/>
<line x1="421.9" y1="1169.3" x2="403.6" y2="1182.9" stroke="#ff0000" stroke-width="2.1"/>
<line x1="385.4" y1="1212.3" x2="388.5" y2="1224.0" stroke="#000000" stroke-width="2.2"/>
<line x1="456.9" y1="1192.0" x2="457.6" y2="1223.3" stroke="#000000" stroke-width="2.2"/>
<text x="365.2" y="1258.4" fill="#008000" font-size="45.0" font-weight="bold" text-anchor="start">Ni</text>
<text x="436.2" y="1258.4" fill="#008000" font-size="45.0" font-weight="bold" text-anchor="start">Ni</text>
<text x="323.0" y="1219.4" fill="#000000" font-size="45.0" font-weight="bold" text-anchor="start">O</text>
<text x="284.0" y="1244.7" fill="#000000" font-size="45.0" font-weight="bold" text-anchor="start">R</text>
<line x1="317.1" y1="1217.4" x2="324.1" y2="1212.7" stroke="#000000" stroke-width="2.2"/>
<line x1="357.3" y1="1215.5" x2="367.9" y2="1222.1" stroke="#000000" stroke-width="2.2"/>
<text x="291.0" y="1317.7" fill="#000000" font-size="45.0" font-weight="bold" text-anchor="start">R</text>
<text x="341.7" y="1317.7" fill="#000000" font-size="45.0" font-weight="bold" text-anchor="start">N</text>
<line x1="325.7" y1="1300.6" x2="341.3" y2="1300.6" stroke="#000000" stroke-width="2.2"/>
<line x1="375.7" y1="1264.2" x2="365.9" y2="1281.8" stroke="#000000" stroke-width="2.2"/>
<text x="403.0" y="1309.1" fill="#000000" font-size="45.0" font-weight="bold" text-anchor="start">O</text>
<line x1="402.2" y1="1262.3" x2="412.8" y2="1277.1" stroke="#000000" stroke-width="2.2"/>
<line x1="432.3" y1="1277.1" x2="442.8" y2="1262.3" stroke="#000000" stroke-width="2.2"/>
<text x="492.0" y="1231.1" fill="#000000" font-size="45.0" font-weight="bold" text-anchor="start">O</text>
<line x1="479.1" y1="1230.3" x2="493.6" y2="1223.3" stroke="#000000" stroke-width="2.2"/>
<text x="536.1" y="1255.3" fill="#000000" font-size="45.0" font-weight="bold" text-anchor="start">R</text>
<line x1="527.9" y1="1225.2" x2="535.7" y2="1227.9" stroke="#000000" stroke-width="2.2"/>
<text x="470.6" y="1316.9" fill="#000000" font-size="45.0" font-weight="bold" text-anchor="start">N</text>
<line x1="468.6" y1="1263.1" x2="477.9" y2="1281.0" stroke="#000000" stroke-width="2.2"/>
<text x="522.1" y="1302.5" fill="#000000" font-size="45.0" font-weight="bold" text-anchor="start">R</text>
<line x1="504.5" y1="1295.5" x2="520.9" y2="1291.6" stroke="#000000" stroke-width="2.2"/>
<line x1="577.9" y1="1218.2" x2="673.3" y2="1218.2" stroke="#222" stroke-width="2.6"/>
<path d="M684.1 1218.2L666.1 1213.0L667.9 1218.2L666.1 1223.4Z" fill="#222"/>
<text x="387.6" y="1395.0" fill="#0000ff" font-size="74.0" font-weight="bold" text-anchor="start">II</text>
<path d="M714.0 1093.7H698.0V1339.2H714.0" stroke="#333" stroke-width="2.4" fill="none"/>
<path d="M1017.7 1093.7H1033.7V1339.2H1017.7" stroke="#333" stroke-width="2.4" fill="none"/>
<path d="M735.5 1106.1H719.5V1331.8H735.5" stroke="#333" stroke-width="2.4" fill="none"/>
<path d="M981.4 1106.1H997.4V1331.8H981.4" stroke="#333" stroke-width="2.4" fill="none"/>
<text x="1008.4" y="1111.5" fill="#000000" font-size="37.0" font-weight="bold" text-anchor="middle">+</text>
<text x="1048.2" y="1105.1" fill="#444" font-size="36.0" font-weight="normal" text-anchor="middle">‡</text>
<text x="798.8" y="1153.0" fill="#ff0000" font-size="45.0" font-weight="bold" text-anchor="start">HN</text>
<text x="892.1" y="1140.1" fill="#ff0000" font-size="45.0" font-weight="bold" text-anchor="start">H</text>
<line x1="863.9" y1="1131.5" x2="892.0" y2="1127.6" stroke="#ff0000" stroke-width="2.2" stroke-dasharray="7 5"/>
<text x="878.4" y="1208.8" fill="#ff0000" font-size="45.0" font-weight="bold" text-anchor="start">N</text>
<text x="930.3" y="1194.8" fill="#ff0000" font-size="45.0" font-weight="bold" text-anchor="start">H</text>
<line x1="913.5" y1="1187.0" x2="930.3" y2="1183.1" stroke="#ff0000" stroke-width="2.2"/>
<line x1="904.5" y1="1145.2" x2="897.9" y2="1174.5" stroke="#ff0000" stroke-width="2.2"/>
<text x="806.2" y="1215.5" fill="#ff0000" font-size="45.0" font-weight="bold" text-anchor="start">O</text>
<line x1="853.0" y1="1156.1" x2="856.1" y2="1177.2" stroke="#ff0000" stroke-width="2.2"/>
<line x1="855.9" y1="1180.1" x2="877.4" y2="1189.8" stroke="#ff0000" stroke-width="2.1"/>
<line x1="857.8" y1="1175.9" x2="879.3" y2="1185.6" stroke="#ff0000" stroke-width="2.1"/>
<line x1="854.6" y1="1176.2" x2="840.6" y2="1188.3" stroke="#ff0000" stroke-width="2.1"/>
<line x1="857.6" y1="1179.7" x2="843.6" y2="1191.8" stroke="#ff0000" stroke-width="2.1"/>
<line x1="824.5" y1="1221.3" x2="827.6" y2="1231.8" stroke="#000000" stroke-width="2.2"/>
<line x1="894.8" y1="1213.5" x2="897.1" y2="1231.1" stroke="#000000" stroke-width="2.2"/>
<text x="804.2" y="1265.4" fill="#008000" font-size="45.0" font-weight="bold" text-anchor="start">Ni</text>
<text x="874.9" y="1265.4" fill="#008000" font-size="45.0" font-weight="bold" text-anchor="start">Ni</text>
<text x="763.6" y="1220.1" fill="#000000" font-size="45.0" font-weight="bold" text-anchor="start">O</text>
<text x="728.5" y="1251.8" fill="#000000" font-size="45.0" font-weight="bold" text-anchor="start">R</text>
<line x1="759.3" y1="1222.1" x2="765.9" y2="1217.4" stroke="#000000" stroke-width="2.2"/>
<line x1="797.2" y1="1219.4" x2="808.1" y2="1229.1" stroke="#000000" stroke-width="2.2"/>
<text x="731.2" y="1303.3" fill="#000000" font-size="45.0" font-weight="bold" text-anchor="start">R</text>
<text x="780.0" y="1316.9" fill="#000000" font-size="45.0" font-weight="bold" text-anchor="start">N</text>
<line x1="761.3" y1="1290.8" x2="778.0" y2="1295.5" stroke="#000000" stroke-width="2.2"/>
<line x1="812.0" y1="1272.1" x2="806.1" y2="1283.8" stroke="#000000" stroke-width="2.2"/>
<text x="847.2" y="1313.0" fill="#000000" font-size="45.0" font-weight="bold" text-anchor="start">O</text>
<line x1="845.2" y1="1270.9" x2="854.2" y2="1281.8" stroke="#000000" stroke-width="2.2"/>
<line x1="876.4" y1="1281.8" x2="882.3" y2="1273.2" stroke="#000000" stroke-width="2.2"/>
<text x="927.6" y="1235.0" fill="#000000" font-size="45.0" font-weight="bold" text-anchor="start">O</text>
<line x1="919.4" y1="1231.8" x2="929.1" y2="1227.2" stroke="#000000" stroke-width="2.2"/>
<text x="967.4" y="1245.9" fill="#000000" font-size="45.0" font-weight="bold" text-anchor="start">R</text>
<line x1="964.2" y1="1223.3" x2="968.2" y2="1224.0" stroke="#000000" stroke-width="2.2"/>
<text x="922.5" y="1317.7" fill="#000000" font-size="45.0" font-weight="bold" text-anchor="start">N</text>
<line x1="915.5" y1="1272.1" x2="925.2" y2="1284.9" stroke="#000000" stroke-width="2.2"/>
<text x="965.5" y="1293.5" fill="#000000" font-size="45.0" font-weight="bold" text-anchor="start">R</text>
<line x1="955.7" y1="1292.4" x2="962.3" y2="1289.6" stroke="#000000" stroke-width="2.2"/>
<line x1="1046.2" y1="1223.3" x2="1141.6" y2="1223.3" stroke="#222" stroke-width="2.6"/>
<path d="M1152.4 1223.3L1134.4 1218.1L1136.2 1223.3L1134.4 1228.5Z" fill="#222"/>
<text x="821.3" y="1395.0" fill="#0000ff" font-size="74.0" font-weight="bold" text-anchor="start">VIII</text>
<path d="M1221.8 1114.7H1205.8V1340.4H1221.8" stroke="#333" stroke-width="2.4" fill="none"/>
<path d="M1463.9 1114.7H1479.9V1340.4H1463.9" stroke="#333" stroke-width="2.4" fill="none"/>
<text x="1488.8" y="1119.7" fill="#000000" font-size="37.0" font-weight="bold" text-anchor="middle">+</text>
<text x="1287.8" y="1197.9" fill="#ff0000" font-size="45.0" font-weight="bold" text-anchor="start">O</text>
<text x="1339.8" y="1186.2" fill="#ff0000" font-size="45.0" font-weight="bold" text-anchor="start">C</text>
<text x="1386.2" y="1181.1" fill="#ff0000" font-size="45.0" font-weight="bold" text-anchor="start">N</text>
<text x="1425.2" y="1171.3" fill="#ff0000" font-size="45.0" font-weight="bold" text-anchor="start">H</text>
<line x1="1422.5" y1="1160.0" x2="1425.6" y2="1159.2" stroke="#ff0000" stroke-width="2.2"/>
<line x1="1324.8" y1="1178.7" x2="1340.4" y2="1176.7" stroke="#ff0000" stroke-width="2.1"/>
<line x1="1324.2" y1="1174.1" x2="1339.8" y2="1172.2" stroke="#ff0000" stroke-width="2.1"/>
<line x1="1372.4" y1="1167.6" x2="1387.2" y2="1173.9" stroke="#ff0000" stroke-width="2.1"/>
<line x1="1374.2" y1="1163.4" x2="1389.0" y2="1169.6" stroke="#ff0000" stroke-width="2.1"/>
<line x1="1306.1" y1="1203.7" x2="1313.2" y2="1227.2" stroke="#000000" stroke-width="2.2"/>
<line x1="1396.7" y1="1186.2" x2="1385.4" y2="1227.2" stroke="#000000" stroke-width="2.2"/>
<text x="1289.8" y="1262.3" fill="#008000" font-size="45.0" font-weight="bold" text-anchor="start">Ni</text>
<text x="1358.9" y="1262.3" fill="#008000" font-size="45.0" font-weight="bold" text-anchor="start">Ni</text>
<text x="1249.6" y="1230.3" fill="#000000" font-size="45.0" font-weight="bold" text-anchor="start">O</text>
<text x="1214.4" y="1248.6" fill="#000000" font-size="45.0" font-weight="bold" text-anchor="start">R</text>
<line x1="1245.6" y1="1223.3" x2="1250.7" y2="1221.3" stroke="#000000" stroke-width="2.2"/>
<line x1="1283.9" y1="1226.4" x2="1291.3" y2="1231.8" stroke="#000000" stroke-width="2.2"/>
<text x="1211.7" y="1305.2" fill="#000000" font-size="45.0" font-weight="bold" text-anchor="start">R</text>
<text x="1260.5" y="1318.1" fill="#000000" font-size="45.0" font-weight="bold" text-anchor="start">N</text>
<line x1="1243.7" y1="1293.5" x2="1259.3" y2="1297.4" stroke="#000000" stroke-width="2.2"/>
<line x1="1296.4" y1="1270.1" x2="1288.6" y2="1282.6" stroke="#000000" stroke-width="2.2"/>
<text x="1331.6" y="1311.1" fill="#000000" font-size="45.0" font-weight="bold" text-anchor="start">O</text>
<line x1="1329.6" y1="1269.3" x2="1337.4" y2="1279.9" stroke="#000000" stroke-width="2.2"/>
<line x1="1360.8" y1="1278.7" x2="1365.5" y2="1270.9" stroke="#000000" stroke-width="2.2"/>
<text x="1412.8" y="1227.2" fill="#000000" font-size="45.0" font-weight="bold" text-anchor="start">O</text>
<line x1="1403.7" y1="1230.3" x2="1414.7" y2="1223.3" stroke="#000000" stroke-width="2.2"/>
<text x="1447.9" y="1260.3" fill="#000000" font-size="45.0" font-weight="bold" text-anchor="start">R</text>
<line x1="1446.7" y1="1225.2" x2="1449.8" y2="1227.2" stroke="#000000" stroke-width="2.2"/>
<text x="1394.0" y="1313.8" fill="#000000" font-size="45.0" font-weight="bold" text-anchor="start">N</text>
<line x1="1394.0" y1="1270.1" x2="1399.8" y2="1281.0" stroke="#000000" stroke-width="2.2"/>
<text x="1444.8" y="1313.8" fill="#000000" font-size="45.0" font-weight="bold" text-anchor="start">R</text>
<line x1="1425.2" y1="1296.6" x2="1443.6" y2="1296.6" stroke="#000000" stroke-width="2.2"/>
<text x="1502.5" y="1240.8" fill="#0000ff" font-size="45.0" font-weight="bold" text-anchor="start"><tspan dy="0.0" font-size="45.0">+NH</tspan><tspan dy="9.4" font-size="35.1">3</tspan></text>
<line x1="1632.1" y1="1220.1" x2="1727.9" y2="1220.1" stroke="#222" stroke-width="2.6"/>
<path d="M1738.7 1220.1L1720.7 1214.9L1722.5 1220.1L1720.7 1225.3Z" fill="#222"/>
<text x="1314.2" y="1395.0" fill="#0000ff" font-size="74.0" font-weight="bold" text-anchor="start">IX</text>
<path d="M1768.8 1132.3H1755.8V1308.0H1768.8" stroke="#333" stroke-width="2.4" fill="none"/>
<path d="M2046.1 1132.3H2059.1V1308.0H2046.1" stroke="#333" stroke-width="2.4" fill="none"/>
<text x="2085.7" y="1134.9" fill="#000000" font-size="45.0" font-weight="normal" text-anchor="middle">+</text>
<text x="1852.7" y="1174.5" fill="#ff0000" font-size="45.0" font-weight="bold" text-anchor="start"><tspan dy="0.0" font-size="45.0">CO</tspan><tspan dy="9.4" font-size="35.1">2</tspan></text>
<text x="1943.2" y="1171.3" fill="#ff0000" font-size="45.0" font-weight="bold" text-anchor="start"><tspan dy="0.0" font-size="45.0">NH</tspan><tspan dy="9.4" font-size="35.1">3</tspan></text>
<line x1="1869.0" y1="1181.1" x2="1869.0" y2="1209.6" stroke="#000000" stroke-width="2.2"/>
<line x1="1954.5" y1="1178.4" x2="1945.2" y2="1209.6" stroke="#000000" stroke-width="2.2"/>
<text x="1847.6" y="1242.8" fill="#008000" font-size="45.0" font-weight="bold" text-anchor="start">Ni</text>
<text x="1917.9" y="1242.8" fill="#008000" font-size="45.0" font-weight="bold" text-anchor="start">Ni</text>
<text x="1814.4" y="1195.9" fill="#000000" font-size="45.0" font-weight="bold" text-anchor="start">O</text>
<text x="1771.5" y="1215.5" fill="#000000" font-size="45.0" font-weight="bold" text-anchor="start">R</text>
<line x1="1805.4" y1="1190.9" x2="1815.2" y2="1187.3" stroke="#000000" stroke-width="2.2"/>
<line x1="1847.2" y1="1196.7" x2="1855.0" y2="1207.6" stroke="#000000" stroke-width="2.2"/>
<text x="1766.4" y="1273.2" fill="#000000" font-size="45.0" font-weight="bold" text-anchor="start">R</text>
<text x="1815.6" y="1294.3" fill="#000000" font-size="45.0" font-weight="bold" text-anchor="start">N</text>
<line x1="1799.5" y1="1263.5" x2="1814.0" y2="1269.3" stroke="#000000" stroke-width="2.2"/>
<line x1="1852.2" y1="1251.4" x2="1846.4" y2="1260.3" stroke="#000000" stroke-width="2.2"/>
<text x="1892.5" y="1291.6" fill="#000000" font-size="45.0" font-weight="bold" text-anchor="start">O</text>
<line x1="1889.3" y1="1249.8" x2="1899.9" y2="1261.5" stroke="#000000" stroke-width="2.2"/>
<line x1="1920.6" y1="1260.3" x2="1925.6" y2="1251.4" stroke="#000000" stroke-width="2.2"/>
<text x="1977.6" y="1217.4" fill="#000000" font-size="45.0" font-weight="bold" text-anchor="start">O</text>
<line x1="1965.5" y1="1216.2" x2="1979.1" y2="1210.4" stroke="#000000" stroke-width="2.2"/>
<text x="2033.0" y="1231.8" fill="#000000" font-size="45.0" font-weight="bold" text-anchor="start">R</text>
<line x1="2018.2" y1="1206.5" x2="2031.8" y2="1209.6" stroke="#000000" stroke-width="2.2"/>
<text x="1970.6" y="1295.5" fill="#000000" font-size="45.0" font-weight="bold" text-anchor="start">N</text>
<line x1="1959.6" y1="1249.8" x2="1975.2" y2="1265.4" stroke="#000000" stroke-width="2.2"/>
<text x="2021.3" y="1281.0" fill="#000000" font-size="45.0" font-weight="bold" text-anchor="start">R</text>
<line x1="2004.5" y1="1274.0" x2="2020.1" y2="1270.1" stroke="#000000" stroke-width="2.2"/>
<text x="2090.8" y="1226.4" fill="#0000ff" font-size="45.0" font-weight="bold" text-anchor="start"><tspan dy="0.0" font-size="45.0">+ NH</tspan><tspan dy="9.4" font-size="35.1">3</tspan></text>
<text x="1874.0" y="1395.8" fill="#0000ff" font-size="74.0" font-weight="bold" text-anchor="start">VII</text>
<text x="297.7" y="1534.7" fill="#000000" font-size="81.0" font-weight="bold" text-anchor="start">3</text>
<path d="M259.0 1757.9H248.0V1907.5H259.0" stroke="#333" stroke-width="2.4" fill="none"/>
<path d="M512.2 1757.9H523.2V1907.5H512.2" stroke="#333" stroke-width="2.4" fill="none"/>
<text x="527.1" y="1764.0" fill="#000000" font-size="38.0" font-weight="bold" text-anchor="middle">+</text>
<text x="332.8" y="1749.4" fill="#ff00ff" font-size="45.0" font-weight="bold" text-anchor="start"><tspan dy="0.0" font-size="45.0">H</tspan><tspan dy="9.4" font-size="35.1">2</tspan><tspan dy="-9.4" font-size="45.0">O</tspan></text>
<text x="421.8" y="1772.8" fill="#ff00ff" font-size="45.0" font-weight="bold" text-anchor="start"><tspan dy="0.0" font-size="45.0">H</tspan><tspan dy="9.4" font-size="35.1">2</tspan><tspan dy="-9.4" font-size="45.0">O</tspan></text>
<line x1="349.1" y1="1764.2" x2="349.1" y2="1806.0" stroke="#000000" stroke-width="2.2"/>
<line x1="432.3" y1="1778.6" x2="424.5" y2="1807.1" stroke="#000000" stroke-width="2.2"/>
<text x="326.1" y="1839.1" fill="#008000" font-size="45.0" font-weight="bold" text-anchor="start">Ni</text>
<text x="397.2" y="1839.1" fill="#008000" font-size="45.0" font-weight="bold" text-anchor="start">Ni</text>
<text x="285.1" y="1797.0" fill="#000000" font-size="45.0" font-weight="bold" text-anchor="start">O</text>
<text x="256.6" y="1837.2" fill="#000000" font-size="45.0" font-weight="bold" text-anchor="start">R</text>
<line x1="282.8" y1="1807.9" x2="291.7" y2="1797.0" stroke="#000000" stroke-width="2.2"/>
<line x1="317.9" y1="1794.2" x2="330.0" y2="1806.0" stroke="#000000" stroke-width="2.2"/>
<text x="259.8" y="1891.1" fill="#000000" font-size="45.0" font-weight="bold" text-anchor="start">R</text>
<text x="303.5" y="1891.1" fill="#000000" font-size="45.0" font-weight="bold" text-anchor="start">N</text>
<line x1="294.9" y1="1874.3" x2="302.7" y2="1874.3" stroke="#000000" stroke-width="2.2"/>
<line x1="335.8" y1="1845.0" x2="326.9" y2="1857.9" stroke="#000000" stroke-width="2.2"/>
<text x="373.0" y="1895.7" fill="#000000" font-size="45.0" font-weight="bold" text-anchor="start">O</text>
<line x1="365.9" y1="1845.0" x2="379.6" y2="1864.5" stroke="#000000" stroke-width="2.2"/>
<line x1="399.1" y1="1864.5" x2="408.8" y2="1845.0" stroke="#000000" stroke-width="2.2"/>
<text x="453.0" y="1815.7" fill="#000000" font-size="45.0" font-weight="bold" text-anchor="start">O</text>
<line x1="442.8" y1="1812.6" x2="454.5" y2="1807.1" stroke="#000000" stroke-width="2.2"/>
<text x="490.1" y="1852.0" fill="#000000" font-size="45.0" font-weight="bold" text-anchor="start">R</text>
<line x1="486.9" y1="1813.8" x2="494.7" y2="1821.6" stroke="#000000" stroke-width="2.2"/>
<text x="431.5" y="1900.8" fill="#000000" font-size="45.0" font-weight="bold" text-anchor="start">N</text>
<line x1="427.6" y1="1843.8" x2="438.9" y2="1865.7" stroke="#000000" stroke-width="2.2"/>
<text x="476.4" y="1897.7" fill="#000000" font-size="45.0" font-weight="bold" text-anchor="start">R</text>
<line x1="465.5" y1="1884.0" x2="476.4" y2="1882.1" stroke="#000000" stroke-width="2.2"/>
<text x="632.6" y="1702.5" fill="#ff0000" font-size="45.0" font-weight="bold" text-anchor="start">O</text>
<text x="548.6" y="1765.0" fill="#ff0000" font-size="45.0" font-weight="bold" text-anchor="start"><tspan dy="0.0" font-size="45.0">H</tspan><tspan dy="9.4" font-size="35.1">2</tspan><tspan dy="-9.4" font-size="45.0">N</tspan></text>
<text x="670.4" y="1765.0" fill="#ff0000" font-size="45.0" font-weight="bold" text-anchor="start"><tspan dy="0.0" font-size="45.0">NH</tspan><tspan dy="9.4" font-size="35.1">2</tspan></text>
<line x1="648.6" y1="1708.4" x2="648.6" y2="1727.9" stroke="#ff0000" stroke-width="2.1"/>
<line x1="653.2" y1="1708.4" x2="653.2" y2="1727.9" stroke="#ff0000" stroke-width="2.1"/>
<line x1="650.9" y1="1727.9" x2="632.5" y2="1737.6" stroke="#ff0000" stroke-width="2.2"/>
<line x1="650.9" y1="1727.9" x2="670.4" y2="1737.6" stroke="#ff0000" stroke-width="2.2"/>
<line x1="573.6" y1="1836.0" x2="669.4" y2="1836.0" stroke="#222" stroke-width="2.6"/>
<path d="M680.2 1836.0L662.2 1830.8L664.0 1836.0L662.2 1841.2Z" fill="#222"/>
<path d="M601.3 1786.4Q606.0 1819.6 641.1 1833.3" stroke="#222" stroke-width="2.2" fill="none"/>
<path d="M643.9 1834.4L633.4 1833.7L635.8 1827.8Z" fill="#222"/>
<text x="343.0" y="2015.0" fill="#000000" font-size="74.0" font-weight="bold" text-anchor="start">X</text>
<text x="2389.0" y="1879.6" fill="#000000" font-size="74.0" font-weight="bold" text-anchor="start">X</text>
<text x="153.6" y="2047.6" fill="#000000" font-size="130.0" font-weight="normal" text-anchor="start">B</text>
<path d="M777.7 1599.8H754.7V1944.5H777.7" stroke="#333" stroke-width="2.4" fill="none"/>
<path d="M1027.6 1599.8H1050.6V1944.5H1027.6" stroke="#333" stroke-width="2.4" fill="none"/>
<text x="1075.9" y="1611.0" fill="#000000" font-size="45.0" font-weight="normal" text-anchor="middle">+</text>
<text x="910.1" y="1653.7" fill="#ff0000" font-size="45.0" font-weight="bold" text-anchor="start"><tspan dy="0.0" font-size="45.0">NH</tspan><tspan dy="9.4" font-size="35.1">2</tspan></text>
<text x="937.4" y="1718.1" fill="#ff0000" font-size="45.0" font-weight="bold" text-anchor="start"><tspan dy="0.0" font-size="45.0">NH</tspan><tspan dy="9.4" font-size="35.1">2</tspan></text>
<text x="864.4" y="1710.3" fill="#ff0000" font-size="45.0" font-weight="bold" text-anchor="start">O</text>
<line x1="925.6" y1="1657.6" x2="921.7" y2="1677.1" stroke="#ff0000" stroke-width="2.2"/>
<line x1="921.7" y1="1677.1" x2="936.2" y2="1688.8" stroke="#ff0000" stroke-width="2.2"/>
<line x1="920.7" y1="1675.9" x2="900.0" y2="1686.8" stroke="#ff0000" stroke-width="2.1"/>
<line x1="922.8" y1="1679.9" x2="902.1" y2="1690.9" stroke="#ff0000" stroke-width="2.1"/>
<line x1="877.6" y1="1716.1" x2="868.6" y2="1745.4" stroke="#000000" stroke-width="2.2" stroke-dasharray="7 4"/>
<line x1="957.6" y1="1724.0" x2="967.4" y2="1751.3" stroke="#000000" stroke-width="2.2" stroke-dasharray="7 4"/>
<text x="843.7" y="1789.5" fill="#ff00ff" font-size="45.0" font-weight="bold" text-anchor="start"><tspan dy="0.0" font-size="45.0">H</tspan><tspan dy="9.4" font-size="35.1">2</tspan><tspan dy="-9.4" font-size="45.0">O</tspan></text>
<text x="959.6" y="1777.8" fill="#ff00ff" font-size="45.0" font-weight="bold" text-anchor="start"><tspan dy="0.0" font-size="45.0">H</tspan><tspan dy="9.4" font-size="35.1">2</tspan><tspan dy="-9.4" font-size="45.0">O</tspan></text>
<line x1="858.9" y1="1804.0" x2="858.9" y2="1822.3" stroke="#000000" stroke-width="2.2"/>
<line x1="962.3" y1="1782.5" x2="942.0" y2="1818.4" stroke="#000000" stroke-width="2.2"/>
<text x="837.1" y="1857.5" fill="#008000" font-size="45.0" font-weight="bold" text-anchor="start">Ni</text>
<text x="907.3" y="1857.5" fill="#008000" font-size="45.0" font-weight="bold" text-anchor="start">Ni</text>
<text x="792.2" y="1819.6" fill="#000000" font-size="45.0" font-weight="bold" text-anchor="start">O</text>
<text x="760.5" y="1858.6" fill="#000000" font-size="45.0" font-weight="bold" text-anchor="start">R</text>
<line x1="789.0" y1="1829.4" x2="797.6" y2="1817.6" stroke="#000000" stroke-width="2.2"/>
<line x1="826.9" y1="1815.7" x2="838.6" y2="1822.3" stroke="#000000" stroke-width="2.2"/>
<text x="762.9" y="1921.1" fill="#000000" font-size="45.0" font-weight="bold" text-anchor="start">R</text>
<text x="812.5" y="1921.1" fill="#000000" font-size="45.0" font-weight="bold" text-anchor="start">N</text>
<line x1="797.6" y1="1904.3" x2="812.4" y2="1904.3" stroke="#000000" stroke-width="2.2"/>
<line x1="848.3" y1="1862.5" x2="836.6" y2="1884.0" stroke="#000000" stroke-width="2.2"/>
<text x="877.7" y="1910.6" fill="#000000" font-size="45.0" font-weight="bold" text-anchor="start">O</text>
<line x1="873.7" y1="1862.5" x2="885.4" y2="1880.1" stroke="#000000" stroke-width="2.2"/>
<line x1="904.9" y1="1880.1" x2="915.5" y2="1862.5" stroke="#000000" stroke-width="2.2"/>
<text x="967.4" y="1832.1" fill="#000000" font-size="45.0" font-weight="bold" text-anchor="start">O</text>
<line x1="953.7" y1="1829.4" x2="968.6" y2="1824.3" stroke="#000000" stroke-width="2.2"/>
<text x="1016.2" y="1860.6" fill="#000000" font-size="45.0" font-weight="bold" text-anchor="start">R</text>
<line x1="1002.5" y1="1826.2" x2="1014.2" y2="1831.3" stroke="#000000" stroke-width="2.2"/>
<text x="954.9" y="1908.6" fill="#000000" font-size="45.0" font-weight="bold" text-anchor="start">N</text>
<line x1="946.7" y1="1863.7" x2="959.6" y2="1878.2" stroke="#000000" stroke-width="2.2"/>
<text x="1015.5" y="1908.6" fill="#000000" font-size="45.0" font-weight="bold" text-anchor="start">R</text>
<line x1="986.9" y1="1892.6" x2="1014.2" y2="1892.6" stroke="#000000" stroke-width="2.2"/>
<line x1="1070.1" y1="1836.0" x2="1166.2" y2="1836.0" stroke="#222" stroke-width="2.6"/>
<path d="M1177.0 1836.0L1159.0 1830.8L1160.8 1836.0L1159.0 1841.2Z" fill="#222"/>
<text x="854.5" y="2014.0" fill="#000000" font-size="74.0" font-weight="bold" text-anchor="start">XI</text>
<path d="M1232.8 1588.5H1205.8V1994.5H1232.8" stroke="#333" stroke-width="2.4" fill="none"/>
<path d="M1536.8 1588.5H1563.8V1994.5H1536.8" stroke="#333" stroke-width="2.4" fill="none"/>
<path d="M1248.3 1622.5H1225.3V1967.2H1248.3" stroke="#333" stroke-width="2.4" fill="none"/>
<path d="M1506.8 1622.5H1529.8V1967.2H1506.8" stroke="#333" stroke-width="2.4" fill="none"/>
<text x="1547.0" y="1633.3" fill="#000000" font-size="44.0" font-weight="normal" text-anchor="middle">+</text>
<text x="1577.5" y="1605.8" fill="#444" font-size="36.0" font-weight="normal" text-anchor="middle">‡</text>
<text x="1389.3" y="1671.3" fill="#ff0000" font-size="45.0" font-weight="bold" text-anchor="start"><tspan dy="0.0" font-size="45.0">NH</tspan><tspan dy="9.4" font-size="35.1">2</tspan></text>
<text x="1416.7" y="1734.9" fill="#ff0000" font-size="45.0" font-weight="bold" text-anchor="start"><tspan dy="0.0" font-size="45.0">NH</tspan><tspan dy="9.4" font-size="35.1">2</tspan></text>
<text x="1344.4" y="1727.9" fill="#ff0000" font-size="45.0" font-weight="bold" text-anchor="start">O</text>
<line x1="1404.5" y1="1675.2" x2="1399.8" y2="1695.8" stroke="#ff0000" stroke-width="2.2"/>
<line x1="1399.2" y1="1698.5" x2="1414.9" y2="1710.2" stroke="#ff0000" stroke-width="2.1"/>
<line x1="1402.0" y1="1694.8" x2="1417.6" y2="1706.5" stroke="#ff0000" stroke-width="2.1"/>
<line x1="1398.8" y1="1694.6" x2="1380.0" y2="1704.3" stroke="#ff0000" stroke-width="2.1"/>
<line x1="1400.9" y1="1698.7" x2="1382.2" y2="1708.4" stroke="#ff0000" stroke-width="2.1"/>
<line x1="1357.7" y1="1733.7" x2="1349.1" y2="1759.1" stroke="#000000" stroke-width="2.2" stroke-dasharray="7 4"/>
<line x1="1436.9" y1="1739.6" x2="1446.7" y2="1764.9" stroke="#000000" stroke-width="2.2" stroke-dasharray="7 4"/>
<text x="1323.7" y="1786.4" fill="#ff00ff" font-size="45.0" font-weight="bold" text-anchor="start"><tspan dy="0.0" font-size="45.0">H</tspan><tspan dy="9.4" font-size="35.1">2</tspan><tspan dy="-9.4" font-size="45.0">O</tspan></text>
<text x="1440.9" y="1792.3" fill="#ff00ff" font-size="45.0" font-weight="bold" text-anchor="start"><tspan dy="0.0" font-size="45.0">H</tspan><tspan dy="9.4" font-size="35.1">2</tspan><tspan dy="-9.4" font-size="45.0">O</tspan></text>
<line x1="1339.3" y1="1801.2" x2="1339.3" y2="1839.1" stroke="#000000" stroke-width="2.2"/>
<line x1="1443.6" y1="1797.0" x2="1421.3" y2="1835.2" stroke="#000000" stroke-width="2.2"/>
<text x="1316.3" y="1873.1" fill="#008000" font-size="45.0" font-weight="bold" text-anchor="start">Ni</text>
<text x="1386.6" y="1873.1" fill="#008000" font-size="45.0" font-weight="bold" text-anchor="start">Ni</text>
<text x="1276.1" y="1833.3" fill="#000000" font-size="45.0" font-weight="bold" text-anchor="start">O</text>
<text x="1242.9" y="1873.1" fill="#000000" font-size="45.0" font-weight="bold" text-anchor="start">R</text>
<line x1="1271.8" y1="1843.0" x2="1281.6" y2="1832.1" stroke="#000000" stroke-width="2.2"/>
<line x1="1310.1" y1="1830.1" x2="1319.8" y2="1837.9" stroke="#000000" stroke-width="2.2"/>
<text x="1237.9" y="1940.6" fill="#000000" font-size="45.0" font-weight="bold" text-anchor="start">R</text>
<text x="1294.9" y="1940.6" fill="#000000" font-size="45.0" font-weight="bold" text-anchor="start">N</text>
<line x1="1273.0" y1="1923.8" x2="1294.4" y2="1923.8" stroke="#000000" stroke-width="2.2"/>
<line x1="1331.5" y1="1877.0" x2="1317.1" y2="1905.5" stroke="#000000" stroke-width="2.2"/>
<text x="1356.1" y="1923.8" fill="#000000" font-size="45.0" font-weight="bold" text-anchor="start">O</text>
<line x1="1353.0" y1="1878.2" x2="1363.9" y2="1893.8" stroke="#000000" stroke-width="2.2"/>
<line x1="1385.0" y1="1893.8" x2="1395.2" y2="1878.2" stroke="#000000" stroke-width="2.2"/>
<text x="1449.1" y="1844.2" fill="#000000" font-size="45.0" font-weight="bold" text-anchor="start">O</text>
<line x1="1433.0" y1="1845.0" x2="1450.6" y2="1836.4" stroke="#000000" stroke-width="2.2"/>
<text x="1494.7" y="1870.3" fill="#000000" font-size="45.0" font-weight="bold" text-anchor="start">R</text>
<line x1="1484.9" y1="1838.3" x2="1493.5" y2="1842.2" stroke="#000000" stroke-width="2.2"/>
<text x="1429.1" y="1923.0" fill="#000000" font-size="45.0" font-weight="bold" text-anchor="start">N</text>
<line x1="1425.2" y1="1878.2" x2="1435.0" y2="1892.6" stroke="#000000" stroke-width="2.2"/>
<text x="1490.8" y="1923.0" fill="#000000" font-size="45.0" font-weight="bold" text-anchor="start">R</text>
<line x1="1462.3" y1="1906.6" x2="1489.6" y2="1906.6" stroke="#000000" stroke-width="2.2"/>
<line x1="1595.0" y1="1816.5" x2="1690.4" y2="1816.5" stroke="#222" stroke-width="2.6"/>
<path d="M1701.2 1816.5L1683.2 1811.3L1685.0 1816.5L1683.2 1821.7Z" fill="#222"/>
<text x="1348.6" y="2014.0" fill="#000000" font-size="74.0" font-weight="bold" text-anchor="start">XII</text>
<path d="M1781.5 1671.3H1762.5V1945.7H1781.5" stroke="#333" stroke-width="2.4" fill="none"/>
<path d="M2034.3 1671.3H2053.3V1945.7H2034.3" stroke="#333" stroke-width="2.4" fill="none"/>
<text x="2059.9" y="1678.5" fill="#000000" font-size="45.0" font-weight="normal" text-anchor="middle">+</text>
<text x="1858.5" y="1718.1" fill="#ff0000" font-size="45.0" font-weight="bold" text-anchor="start">O</text>
<text x="1907.3" y="1732.5" fill="#ff0000" font-size="45.0" font-weight="bold" text-anchor="start">C</text>
<text x="1967.4" y="1733.7" fill="#ff0000" font-size="45.0" font-weight="bold" text-anchor="start">NH</text>
<line x1="1892.5" y1="1708.6" x2="1908.1" y2="1713.7" stroke="#ff0000" stroke-width="2.1"/>
<line x1="1893.9" y1="1704.2" x2="1909.6" y2="1709.3" stroke="#ff0000" stroke-width="2.1"/>
<line x1="1938.6" y1="1721.6" x2="1967.1" y2="1725.5" stroke="#ff0000" stroke-width="2.1"/>
<line x1="1939.2" y1="1717.0" x2="1967.7" y2="1720.9" stroke="#ff0000" stroke-width="2.1"/>
<line x1="1883.5" y1="1722.0" x2="1868.6" y2="1772.8" stroke="#000000" stroke-width="2.2" stroke-dasharray="7 4"/>
<line x1="1981.8" y1="1738.8" x2="1973.3" y2="1773.9" stroke="#000000" stroke-width="2.2" stroke-dasharray="7 4"/>
<text x="1853.4" y="1805.2" fill="#ff00ff" font-size="45.0" font-weight="bold" text-anchor="start"><tspan dy="0.0" font-size="45.0">H</tspan><tspan dy="9.4" font-size="35.1">2</tspan><tspan dy="-9.4" font-size="45.0">O</tspan></text>
<text x="1964.7" y="1807.1" fill="#ff00ff" font-size="45.0" font-weight="bold" text-anchor="start"><tspan dy="0.0" font-size="45.0">H</tspan><tspan dy="9.4" font-size="35.1">2</tspan><tspan dy="-9.4" font-size="45.0">O</tspan></text>
<line x1="1868.6" y1="1819.6" x2="1868.6" y2="1845.0" stroke="#000000" stroke-width="2.2"/>
<line x1="1968.2" y1="1813.0" x2="1950.6" y2="1841.8" stroke="#000000" stroke-width="2.2"/>
<text x="1847.6" y="1879.3" fill="#008000" font-size="45.0" font-weight="bold" text-anchor="start">Ni</text>
<text x="1917.9" y="1879.3" fill="#008000" font-size="45.0" font-weight="bold" text-anchor="start">Ni</text>
<text x="1805.4" y="1841.1" fill="#000000" font-size="45.0" font-weight="bold" text-anchor="start">O</text>
<text x="1766.8" y="1865.3" fill="#000000" font-size="45.0" font-weight="bold" text-anchor="start">R</text>
<line x1="1797.6" y1="1839.1" x2="1807.4" y2="1834.0" stroke="#000000" stroke-width="2.2"/>
<line x1="1838.6" y1="1837.9" x2="1850.3" y2="1845.8" stroke="#000000" stroke-width="2.2"/>
<text x="1774.2" y="1919.1" fill="#000000" font-size="45.0" font-weight="bold" text-anchor="start">R</text>
<text x="1821.4" y="1931.6" fill="#000000" font-size="45.0" font-weight="bold" text-anchor="start">N</text>
<line x1="1804.6" y1="1906.6" x2="1820.2" y2="1910.6" stroke="#000000" stroke-width="2.2"/>
<line x1="1855.4" y1="1886.0" x2="1847.6" y2="1897.7" stroke="#000000" stroke-width="2.2"/>
<text x="1883.9" y="1928.9" fill="#000000" font-size="45.0" font-weight="bold" text-anchor="start">O</text>
<line x1="1883.5" y1="1884.8" x2="1892.1" y2="1897.7" stroke="#000000" stroke-width="2.2"/>
<line x1="1913.9" y1="1896.5" x2="1923.3" y2="1884.8" stroke="#000000" stroke-width="2.2"/>
<text x="1978.4" y="1859.8" fill="#000000" font-size="45.0" font-weight="bold" text-anchor="start">O</text>
<line x1="1963.5" y1="1853.6" x2="1979.1" y2="1848.9" stroke="#000000" stroke-width="2.2"/>
<text x="2012.7" y="1892.6" fill="#000000" font-size="45.0" font-weight="bold" text-anchor="start">R</text>
<line x1="2011.5" y1="1858.6" x2="2015.4" y2="1862.5" stroke="#000000" stroke-width="2.2"/>
<text x="1952.2" y="1928.9" fill="#000000" font-size="45.0" font-weight="bold" text-anchor="start">N</text>
<line x1="1951.8" y1="1886.0" x2="1958.4" y2="1896.5" stroke="#000000" stroke-width="2.2"/>
<text x="1998.7" y="1928.9" fill="#000000" font-size="45.0" font-weight="bold" text-anchor="start">R</text>
<line x1="1985.0" y1="1913.3" x2="1998.6" y2="1913.3" stroke="#000000" stroke-width="2.2"/>
<text x="2057.2" y="1826.2" fill="#0000ff" font-size="45.0" font-weight="bold" text-anchor="start"><tspan dy="0.0" font-size="45.0">+NH</tspan><tspan dy="9.4" font-size="35.1">3</tspan></text>
<line x1="2188.7" y1="1838.3" x2="2284.5" y2="1838.3" stroke="#222" stroke-width="2.6"/>
<path d="M2295.3 1838.3L2277.3 1833.1L2279.1 1838.3L2277.3 1843.5Z" fill="#222"/>
<text x="1879.9" y="2014.0" fill="#000000" font-size="74.0" font-weight="bold" text-anchor="start">XIII</text>
<line x1="300.0" y1="2147.0" x2="300.0" y2="3712.0" stroke="#000000" stroke-width="6.0" stroke-linecap="butt"/>
<line x1="297.0" y1="3709.0" x2="2258.0" y2="3709.0" stroke="#000000" stroke-width="6.0" stroke-linecap="butt"/>
<path d="M2232 3686L2260 3709.5L2232 3735" stroke="#000" stroke-width="6" fill="none" stroke-linejoin="miter"/>
<line x1="276.5" y1="2187.8" x2="300.0" y2="2187.8" stroke="#000000" stroke-width="5.6" stroke-linecap="butt"/>
<text transform="translate(255.3,2202.0) scale(0.95,1)" fill="#000" font-size="50" font-weight="bold" text-anchor="end">+150</text>
<line x1="276.5" y1="2309.2" x2="300.0" y2="2309.2" stroke="#000000" stroke-width="5.6" stroke-linecap="butt"/>
<text transform="translate(255.3,2323.4) scale(0.95,1)" fill="#000" font-size="50" font-weight="bold" text-anchor="end">+100</text>
<line x1="276.5" y1="2433.6" x2="300.0" y2="2433.6" stroke="#000000" stroke-width="5.6" stroke-linecap="butt"/>
<text transform="translate(255.3,2447.8) scale(0.95,1)" fill="#000" font-size="50" font-weight="bold" text-anchor="end">+50</text>
<line x1="276.5" y1="2553.6" x2="300.0" y2="2553.6" stroke="#000000" stroke-width="5.6" stroke-linecap="butt"/>
<text transform="translate(255.3,2567.8) scale(0.95,1)" fill="#000" font-size="50" font-weight="bold" text-anchor="end">0</text>
<line x1="276.5" y1="2681.0" x2="300.0" y2="2681.0" stroke="#000000" stroke-width="5.6" stroke-linecap="butt"/>
<text transform="translate(255.3,2695.2) scale(0.95,1)" fill="#000" font-size="50" font-weight="bold" text-anchor="end">-50</text>
<line x1="276.5" y1="2799.5" x2="300.0" y2="2799.5" stroke="#000000" stroke-width="5.6" stroke-linecap="butt"/>
<text transform="translate(255.3,2813.7) scale(0.95,1)" fill="#000" font-size="50" font-weight="bold" text-anchor="end">-100</text>
<line x1="276.5" y1="2920.8" x2="300.0" y2="2920.8" stroke="#000000" stroke-width="5.6" stroke-linecap="butt"/>
<text transform="translate(255.3,2935.0) scale(0.95,1)" fill="#000" font-size="50" font-weight="bold" text-anchor="end">-150</text>
<line x1="276.5" y1="3044.5" x2="300.0" y2="3044.5" stroke="#000000" stroke-width="5.6" stroke-linecap="butt"/>
<text transform="translate(255.3,3058.7) scale(0.95,1)" fill="#000" font-size="50" font-weight="bold" text-anchor="end">-200</text>
<line x1="276.5" y1="3166.0" x2="300.0" y2="3166.0" stroke="#000000" stroke-width="5.6" stroke-linecap="butt"/>
<text transform="translate(255.3,3180.2) scale(0.95,1)" fill="#000" font-size="50" font-weight="bold" text-anchor="end">-250</text>
<line x1="276.5" y1="3292.0" x2="300.0" y2="3292.0" stroke="#000000" stroke-width="5.6" stroke-linecap="butt"/>
<text transform="translate(255.3,3306.2) scale(0.95,1)" fill="#000" font-size="50" font-weight="bold" text-anchor="end">-300</text>
<line x1="276.5" y1="3408.0" x2="300.0" y2="3408.0" stroke="#000000" stroke-width="5.6" stroke-linecap="butt"/>
<text transform="translate(255.3,3422.2) scale(0.95,1)" fill="#000" font-size="50" font-weight="bold" text-anchor="end">-350</text>
<line x1="276.5" y1="3535.5" x2="300.0" y2="3535.5" stroke="#000000" stroke-width="5.6" stroke-linecap="butt"/>
<text transform="translate(255.3,3549.7) scale(0.95,1)" fill="#000" font-size="50" font-weight="bold" text-anchor="end">-400</text>
<line x1="276.5" y1="3659.0" x2="300.0" y2="3659.0" stroke="#000000" stroke-width="5.6" stroke-linecap="butt"/>
<text transform="translate(255.3,3673.2) scale(0.95,1)" fill="#000" font-size="50" font-weight="bold" text-anchor="end">-450</text>
<text x="969.5" y="3800.5" fill="#000" font-size="62.5" font-weight="bold" textLength="590" lengthAdjust="spacingAndGlyphs">Reaction progress</text>
<text transform="translate(92.8,3361.5) rotate(-90)" fill="#000" font-size="68" font-weight="bold" textLength="866" lengthAdjust="spacingAndGlyphs">Relative Energy (kJ mol <tspan dy="-15">-1</tspan><tspan dy="15"> )</tspan></text>
<line x1="359.3" y1="2553.8" x2="523.2" y2="2553.8" stroke="#ed1c24" stroke-width="5.2" stroke-linecap="butt"/>
<line x1="601.1" y1="3262.0" x2="765.1" y2="3262.0" stroke="#ed1c24" stroke-width="5.2" stroke-linecap="butt"/>
<line x1="850.0" y1="3171.8" x2="1012.7" y2="3171.8" stroke="#ed1c24" stroke-width="5.2" stroke-linecap="butt"/>
<line x1="1088.5" y1="3347.0" x2="1254.3" y2="3347.0" stroke="#ed1c24" stroke-width="5.2" stroke-linecap="butt"/>
<line x1="1342.5" y1="2296.2" x2="1506.5" y2="2296.2" stroke="#ed1c24" stroke-width="5.2" stroke-linecap="butt"/>
<line x1="1580.9" y1="2298.5" x2="1743.6" y2="2298.5" stroke="#ed1c24" stroke-width="5.2" stroke-linecap="butt"/>
<line x1="2077.9" y1="3289.6" x2="2243.0" y2="3289.6" stroke="#ed1c24" stroke-width="5.2" stroke-linecap="butt"/>
<line x1="850.0" y1="2725.4" x2="1014.0" y2="2725.4" stroke="#0072bc" stroke-width="5.2" stroke-linecap="butt"/>
<line x1="1096.6" y1="2600.6" x2="1261.7" y2="2600.6" stroke="#0072bc" stroke-width="5.2" stroke-linecap="butt"/>
<line x1="608.1" y1="3383.8" x2="772.1" y2="3383.8" stroke="#000000" stroke-width="4.6" stroke-linecap="butt"/>
<line x1="838.2" y1="3505.3" x2="1006.9" y2="3505.3" stroke="#000000" stroke-width="4.6" stroke-linecap="butt"/>
<line x1="842.9" y1="3636.1" x2="1009.2" y2="3636.1" stroke="#000000" stroke-width="4.6" stroke-linecap="butt"/>
<line x1="1086.2" y1="3082.2" x2="1249.0" y2="3082.2" stroke="#000000" stroke-width="4.6" stroke-linecap="butt"/>
<line x1="1086.2" y1="3290.2" x2="1257.5" y2="3290.2" stroke="#000000" stroke-width="4.6" stroke-linecap="butt"/>
<line x1="1345.5" y1="3210.2" x2="1511.9" y2="3210.2" stroke="#000000" stroke-width="4.6" stroke-linecap="butt"/>
<line x1="2077.9" y1="3381.6" x2="2243.0" y2="3381.6" stroke="#000000" stroke-width="4.6" stroke-linecap="butt"/>
<line x1="523.2" y1="2553.8" x2="602.3" y2="3262.0" stroke="#ed1c24" stroke-width="2.7" stroke-linecap="butt" stroke-dasharray="12 3.5"/>
<line x1="765.1" y1="3262.0" x2="850.0" y2="3171.8" stroke="#ed1c24" stroke-width="2.2" stroke-linecap="butt" stroke-dasharray="6 2.5"/>
<line x1="1012.7" y1="3171.8" x2="1088.5" y2="3347.0" stroke="#ed1c24" stroke-width="2.5" stroke-linecap="butt" stroke-dasharray="9 3"/>
<line x1="1254.3" y1="3347.0" x2="1342.5" y2="2296.2" stroke="#ed1c24" stroke-width="5.2" stroke-linecap="butt" stroke-dasharray="27 6.6"/>
<line x1="1506.5" y1="2296.2" x2="1580.9" y2="2298.5" stroke="#f0646a" stroke-width="2.0" stroke-linecap="butt" stroke-dasharray="5 3"/>
<line x1="1741.8" y1="2298.5" x2="2075.5" y2="3289.4" stroke="#ed1c24" stroke-width="5.0" stroke-linecap="butt" stroke-dasharray="23 6.3"/>
<line x1="765.1" y1="3262.0" x2="850.0" y2="2725.4" stroke="#0072bc" stroke-width="3.6" stroke-linecap="butt" stroke-dasharray="8.6 3.1"/>
<line x1="1014.0" y1="2725.4" x2="1096.6" y2="2600.6" stroke="#0072bc" stroke-width="2.5" stroke-linecap="butt" stroke-dasharray="7 3"/>
<line x1="1261.7" y1="2600.6" x2="2077.0" y2="3289.0" stroke="#0072bc" stroke-width="5.0" stroke-linecap="butt" stroke-dasharray="15.5 5.7"/>
<line x1="772.1" y1="3383.8" x2="838.2" y2="3505.3" stroke="#000000" stroke-width="3.0" stroke-linecap="butt" stroke-dasharray="7.3 2.6"/>
<line x1="772.1" y1="3383.8" x2="842.9" y2="3636.1" stroke="#000000" stroke-width="3.0" stroke-linecap="butt" stroke-dasharray="7.3 2.6"/>
<line x1="1006.9" y1="3505.3" x2="1086.2" y2="3289.6" stroke="#000000" stroke-width="3.4" stroke-linecap="butt" stroke-dasharray="11 4"/>
<line x1="1009.2" y1="3636.1" x2="1086.2" y2="3082.9" stroke="#000000" stroke-width="3.4" stroke-linecap="butt" stroke-dasharray="11 4"/>
<line x1="1249.0" y1="3082.2" x2="1345.5" y2="3210.2" stroke="#000000" stroke-width="3.4" stroke-linecap="butt" stroke-dasharray="11 4"/>
<line x1="1257.2" y1="3290.2" x2="1346.2" y2="3210.2" stroke="#000000" stroke-width="2.3" stroke-linecap="butt" stroke-dasharray="5.7 1.3"/>
<line x1="1511.9" y1="3210.2" x2="2077.9" y2="3381.5" stroke="#000000" stroke-width="4.4" stroke-linecap="butt" stroke-dasharray="27.3 9.9"/>
<text transform="translate(438.0,2531.6) scale(1.000,1)" fill="#ed1c24" font-size="41.5" font-weight="bold" text-anchor="middle">I</text>
<text transform="translate(682.2,3240.3) scale(1.000,1)" fill="#ed1c24" font-size="41.5" font-weight="bold" text-anchor="middle">II</text>
<text transform="translate(927.8,3153.1) scale(1.000,1)" fill="#ed1c24" font-size="41.5" font-weight="bold" text-anchor="middle">III</text>
<text transform="translate(1179.6,3395.0) scale(1.000,1)" fill="#ed1c24" font-size="41.5" font-weight="bold" text-anchor="middle">IV -328</text>
<text transform="translate(1417.8,2276.8) scale(1.000,1)" fill="#ed1c24" font-size="41.5" font-weight="bold" text-anchor="middle">V</text>
<text transform="translate(1660.2,2276.8) scale(1.000,1)" fill="#ed1c24" font-size="41.5" font-weight="bold" text-anchor="middle">VI</text>
<text transform="translate(2151.4,3269.2) scale(1.000,1)" fill="#ed1c24" font-size="41.5" font-weight="bold" text-anchor="middle">VII</text>
<text transform="translate(928.1,2707.2) scale(1.000,1)" fill="#0b54a6" font-size="41.5" font-weight="bold" text-anchor="middle">VIII</text>
<text transform="translate(1169.0,2580.2) scale(1.000,1)" fill="#0b54a6" font-size="41.5" font-weight="bold" text-anchor="middle">IX</text>
<text transform="translate(682.5,3363.3) scale(1.000,1)" fill="#000000" font-size="41.5" font-weight="bold" text-anchor="middle">X</text>
<text transform="translate(927.0,3484.5) scale(1.000,1)" fill="#000000" font-size="41.5" font-weight="bold" text-anchor="middle">XI (N)</text>
<text transform="translate(928.4,3619.1) scale(1.000,1)" fill="#000000" font-size="41.5" font-weight="bold" text-anchor="middle">XI (O)</text>
<text transform="translate(1179.6,3067.0) scale(1.000,1)" fill="#000000" font-size="41.5" font-weight="bold" text-anchor="middle">XII (O)</text>
<text transform="translate(1181.7,3270.9) scale(1.000,1)" fill="#000000" font-size="41.5" font-weight="bold" text-anchor="middle">XII (N)</text>
<text transform="translate(1428.5,3197.1) scale(1.000,1)" fill="#000000" font-size="41.5" font-weight="bold" text-anchor="middle">XIII</text>
<text transform="translate(2154.9,3372.2) scale(1.000,1)" fill="#000000" font-size="41.5" font-weight="bold" text-anchor="middle">X</text>
<text transform="translate(682.2,3304.8) scale(1.045,1)" fill="#000000" font-size="43.5" font-weight="bold" text-anchor="middle">-292</text>
<text transform="translate(682.2,3430.6) scale(1.045,1)" fill="#000000" font-size="43.5" font-weight="bold" text-anchor="middle">-344</text>
<text transform="translate(918.8,3215.7) scale(1.045,1)" fill="#000000" font-size="43.5" font-weight="bold" text-anchor="middle">-256</text>
<text transform="translate(922.6,2773.4) scale(1.045,1)" fill="#000000" font-size="43.5" font-weight="bold" text-anchor="middle">-70.5</text>
<text transform="translate(1161.8,2647.5) scale(1.045,1)" fill="#000000" font-size="43.5" font-weight="bold" text-anchor="middle">-20</text>
<text transform="translate(1418.7,2343.0) scale(1.045,1)" fill="#000000" font-size="43.5" font-weight="bold" text-anchor="middle">+109</text>
<text transform="translate(1647.6,2341.2) scale(1.045,1)" fill="#000000" font-size="43.5" font-weight="bold" text-anchor="middle">+106</text>
<text transform="translate(918.8,3553.0) scale(1.045,1)" fill="#000000" font-size="43.5" font-weight="bold" text-anchor="middle">-392</text>
<text transform="translate(915.8,3681.8) scale(1.045,1)" fill="#000000" font-size="43.5" font-weight="bold" text-anchor="middle">-446</text>
<text transform="translate(1170.2,3127.4) scale(1.045,1)" fill="#000000" font-size="43.5" font-weight="bold" text-anchor="middle">-211</text>
<text transform="translate(1161.2,3333.5) scale(1.045,1)" fill="#000000" font-size="43.5" font-weight="bold" text-anchor="middle">-302</text>
<text transform="translate(1424.0,3255.7) scale(1.045,1)" fill="#000000" font-size="43.5" font-weight="bold" text-anchor="middle">-273</text>
<text transform="translate(2149.6,3330.6) scale(1.045,1)" fill="#000000" font-size="43.5" font-weight="bold" text-anchor="middle">-284</text>
<text transform="translate(2149.6,3427.8) scale(1.045,1)" fill="#000000" font-size="43.5" font-weight="bold" text-anchor="middle">-344</text>
</svg>
</div>
</body></html>
